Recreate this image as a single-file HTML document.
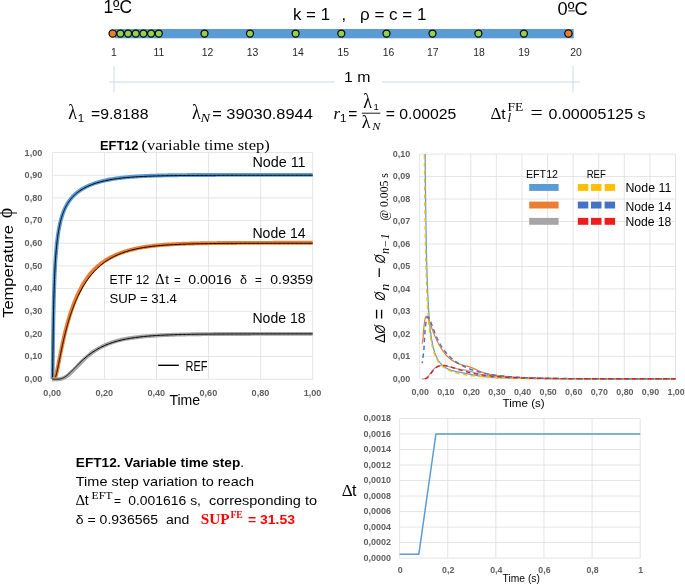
<!DOCTYPE html>
<html><head><meta charset="utf-8"><title>EFT12</title>
<style>
html,body{margin:0;padding:0;background:#fff;}
body{width:685px;height:585px;overflow:hidden;font-family:"Liberation Sans",sans-serif;}
svg{display:block;}
text{white-space:pre;}
</style></head>
<body>
<svg width="685" height="585" viewBox="0 0 685 585">
<rect width="685" height="585" fill="#fff"/>
<g opacity="0.999">
<rect x="114.9" y="29.0" width="458.8" height="9.3" fill="#5B9BD5"/>
<circle cx="120.38" cy="33.5" r="3.5" fill="#92D050" stroke="#0a0a0a" stroke-width="1.25"/>
<circle cx="128.07" cy="33.5" r="3.5" fill="#92D050" stroke="#0a0a0a" stroke-width="1.25"/>
<circle cx="135.75" cy="33.5" r="3.5" fill="#92D050" stroke="#0a0a0a" stroke-width="1.25"/>
<circle cx="143.43" cy="33.5" r="3.5" fill="#92D050" stroke="#0a0a0a" stroke-width="1.25"/>
<circle cx="151.12" cy="33.5" r="3.5" fill="#92D050" stroke="#0a0a0a" stroke-width="1.25"/>
<circle cx="158.80" cy="33.5" r="3.5" fill="#92D050" stroke="#0a0a0a" stroke-width="1.25"/>
<circle cx="204.50" cy="33.5" r="3.5" fill="#92D050" stroke="#0a0a0a" stroke-width="1.25"/>
<circle cx="250.00" cy="33.5" r="3.5" fill="#92D050" stroke="#0a0a0a" stroke-width="1.25"/>
<circle cx="295.60" cy="33.5" r="3.5" fill="#92D050" stroke="#0a0a0a" stroke-width="1.25"/>
<circle cx="341.30" cy="33.5" r="3.5" fill="#92D050" stroke="#0a0a0a" stroke-width="1.25"/>
<circle cx="386.50" cy="33.5" r="3.5" fill="#92D050" stroke="#0a0a0a" stroke-width="1.25"/>
<circle cx="432.50" cy="33.5" r="3.5" fill="#92D050" stroke="#0a0a0a" stroke-width="1.25"/>
<circle cx="478.40" cy="33.5" r="3.5" fill="#92D050" stroke="#0a0a0a" stroke-width="1.25"/>
<circle cx="523.90" cy="33.5" r="3.5" fill="#92D050" stroke="#0a0a0a" stroke-width="1.25"/>
<circle cx="112.70" cy="33.5" r="3.7" fill="#ED7D31" stroke="#0a0a0a" stroke-width="1.25"/>
<circle cx="568.40" cy="33.5" r="3.7" fill="#ED7D31" stroke="#0a0a0a" stroke-width="1.25"/>
<text x="113.80" y="55.60" font-size="10.4" font-family='"Liberation Sans", sans-serif' fill="#262626" text-anchor="middle">1</text>
<text x="159.00" y="55.60" font-size="10.4" font-family='"Liberation Sans", sans-serif' fill="#262626" text-anchor="middle">11</text>
<text x="207.50" y="55.60" font-size="10.4" font-family='"Liberation Sans", sans-serif' fill="#262626" text-anchor="middle">12</text>
<text x="252.50" y="55.60" font-size="10.4" font-family='"Liberation Sans", sans-serif' fill="#262626" text-anchor="middle">13</text>
<text x="298.00" y="55.60" font-size="10.4" font-family='"Liberation Sans", sans-serif' fill="#262626" text-anchor="middle">14</text>
<text x="343.20" y="55.60" font-size="10.4" font-family='"Liberation Sans", sans-serif' fill="#262626" text-anchor="middle">15</text>
<text x="388.50" y="55.60" font-size="10.4" font-family='"Liberation Sans", sans-serif' fill="#262626" text-anchor="middle">16</text>
<text x="432.80" y="55.60" font-size="10.4" font-family='"Liberation Sans", sans-serif' fill="#262626" text-anchor="middle">17</text>
<text x="479.00" y="55.60" font-size="10.4" font-family='"Liberation Sans", sans-serif' fill="#262626" text-anchor="middle">18</text>
<text x="524.00" y="55.60" font-size="10.4" font-family='"Liberation Sans", sans-serif' fill="#262626" text-anchor="middle">19</text>
<text x="576.00" y="55.60" font-size="10.4" font-family='"Liberation Sans", sans-serif' fill="#262626" text-anchor="middle">20</text>
<text x="103.40" y="12.90" font-size="17.5" font-family='"Liberation Sans", sans-serif' fill="#000" textLength="28.60" lengthAdjust="spacingAndGlyphs">1ºC</text>
<text x="557.60" y="14.70" font-size="17.5" font-family='"Liberation Sans", sans-serif' fill="#000" textLength="30.00" lengthAdjust="spacingAndGlyphs">0ºC</text>
<line x1="113.9" y1="9.5" x2="119.7" y2="9.5" stroke="#000" stroke-width="0.9"/>
<line x1="568.4" y1="10.9" x2="574.8" y2="10.9" stroke="#000" stroke-width="0.9"/>
<text x="293.00" y="19.90" font-size="16.5" font-family='"Liberation Sans", sans-serif' fill="#000" textLength="37.00" lengthAdjust="spacingAndGlyphs">k = 1</text>
<text x="341.50" y="19.90" font-size="16.5" font-family='"Liberation Sans", sans-serif' fill="#000">,</text>
<text x="360.00" y="19.90" font-size="16.5" font-family='"Liberation Sans", sans-serif' fill="#000" textLength="66.40" lengthAdjust="spacingAndGlyphs">ρ = c = 1</text>
<line x1="109" y1="82" x2="334.5" y2="82" stroke="#C9DAF1" stroke-width="1"/>
<line x1="382" y1="82" x2="579.7" y2="82" stroke="#C9DAF1" stroke-width="1"/>
<line x1="114" y1="66" x2="114" y2="92.5" stroke="#C9DAF1" stroke-width="1"/>
<line x1="573" y1="66" x2="573" y2="92.5" stroke="#C9DAF1" stroke-width="1"/>
<text x="344.00" y="82.30" font-size="15" font-family='"Liberation Sans", sans-serif' fill="#000" textLength="26.40" lengthAdjust="spacingAndGlyphs">1 m</text>
<text transform="translate(68.30,118.60) scale(1,1.14)" x="0" y="0" font-size="18" font-family='"Liberation Serif", serif' fill="#000">λ</text>
<text x="77.70" y="122.40" font-size="11.5" font-family='"Liberation Sans", sans-serif' fill="#000">1</text>
<text x="91.00" y="118.60" font-size="15.5" font-family='"Liberation Sans", sans-serif' fill="#000" textLength="57.40" lengthAdjust="spacingAndGlyphs">=9.8188</text>
<text transform="translate(192.00,118.60) scale(1,1.14)" x="0" y="0" font-size="18" font-family='"Liberation Serif", serif' fill="#000">λ</text>
<text x="200.40" y="122.00" font-size="11.5" font-family='"Liberation Serif", serif' fill="#000" font-style="italic" textLength="9.60" lengthAdjust="spacingAndGlyphs">N</text>
<text x="212.20" y="118.60" font-size="15.5" font-family='"Liberation Sans", sans-serif' fill="#000" textLength="100.60" lengthAdjust="spacingAndGlyphs">= 39030.8944</text>
<text x="333.50" y="118.60" font-size="17" font-family='"Liberation Serif", serif' fill="#000" font-style="italic">r</text>
<text x="340.00" y="122.40" font-size="11.5" font-family='"Liberation Sans", sans-serif' fill="#000">1</text>
<text x="348.30" y="118.60" font-size="15.5" font-family='"Liberation Sans", sans-serif' fill="#000" textLength="9.10" lengthAdjust="spacingAndGlyphs">=</text>
<text transform="translate(363.20,107.50) scale(1,1.12)" x="0" y="0" font-size="18" font-family='"Liberation Serif", serif' fill="#000">λ</text>
<text x="373.60" y="110.40" font-size="9.5" font-family='"Liberation Sans", sans-serif' fill="#000">1</text>
<line x1="361.8" y1="113.2" x2="380.4" y2="113.2" stroke="#000" stroke-width="0.9"/>
<text transform="translate(361.80,127.60) scale(1,1.0)" x="0" y="0" font-size="18" font-family='"Liberation Serif", serif' fill="#000">λ</text>
<text x="372.30" y="130.30" font-size="10" font-family='"Liberation Serif", serif' fill="#000" font-style="italic" textLength="8.10" lengthAdjust="spacingAndGlyphs">N</text>
<text x="385.70" y="118.60" font-size="15.5" font-family='"Liberation Sans", sans-serif' fill="#000" textLength="70.60" lengthAdjust="spacingAndGlyphs">= 0.00025</text>
<text x="490.40" y="118.60" font-size="17" font-family='"Liberation Serif", serif' fill="#000">Δ</text>
<text x="501.30" y="118.60" font-size="15.5" font-family='"Liberation Sans", sans-serif' fill="#000">t</text>
<text x="507.50" y="111.40" font-size="11.5" font-family='"Liberation Serif", serif' fill="#000" textLength="15.80" lengthAdjust="spacingAndGlyphs">FE</text>
<text x="507.60" y="121.60" font-size="13" font-family='"Liberation Serif", serif' fill="#000" font-style="italic">l</text>
<text x="530.40" y="118.90" font-size="18.5" font-family='"Liberation Serif", serif' fill="#000" textLength="12.20" lengthAdjust="spacingAndGlyphs">=</text>
<text x="548.60" y="118.60" font-size="15.5" font-family='"Liberation Sans", sans-serif' fill="#000" textLength="96.90" lengthAdjust="spacingAndGlyphs">0.00005125 s</text>
<line x1="52.4" y1="379.20" x2="312.7" y2="379.20" stroke="#DCDCDC" stroke-width="0.75"/>
<text x="42.30" y="382.10" font-size="9.1" font-family='"Liberation Sans", sans-serif' fill="#5f5f5f" font-weight="bold" text-anchor="end">0,00</text>
<line x1="52.4" y1="356.54" x2="312.7" y2="356.54" stroke="#DCDCDC" stroke-width="0.75"/>
<text x="42.30" y="359.44" font-size="9.1" font-family='"Liberation Sans", sans-serif' fill="#5f5f5f" font-weight="bold" text-anchor="end">0,10</text>
<line x1="52.4" y1="333.88" x2="312.7" y2="333.88" stroke="#DCDCDC" stroke-width="0.75"/>
<text x="42.30" y="336.78" font-size="9.1" font-family='"Liberation Sans", sans-serif' fill="#5f5f5f" font-weight="bold" text-anchor="end">0,20</text>
<line x1="52.4" y1="311.22" x2="312.7" y2="311.22" stroke="#DCDCDC" stroke-width="0.75"/>
<text x="42.30" y="314.12" font-size="9.1" font-family='"Liberation Sans", sans-serif' fill="#5f5f5f" font-weight="bold" text-anchor="end">0,30</text>
<line x1="52.4" y1="288.56" x2="312.7" y2="288.56" stroke="#DCDCDC" stroke-width="0.75"/>
<text x="42.30" y="291.46" font-size="9.1" font-family='"Liberation Sans", sans-serif' fill="#5f5f5f" font-weight="bold" text-anchor="end">0,40</text>
<line x1="52.4" y1="265.90" x2="312.7" y2="265.90" stroke="#DCDCDC" stroke-width="0.75"/>
<text x="42.30" y="268.80" font-size="9.1" font-family='"Liberation Sans", sans-serif' fill="#5f5f5f" font-weight="bold" text-anchor="end">0,50</text>
<line x1="52.4" y1="243.24" x2="312.7" y2="243.24" stroke="#DCDCDC" stroke-width="0.75"/>
<text x="42.30" y="246.14" font-size="9.1" font-family='"Liberation Sans", sans-serif' fill="#5f5f5f" font-weight="bold" text-anchor="end">0,60</text>
<line x1="52.4" y1="220.58" x2="312.7" y2="220.58" stroke="#DCDCDC" stroke-width="0.75"/>
<text x="42.30" y="223.48" font-size="9.1" font-family='"Liberation Sans", sans-serif' fill="#5f5f5f" font-weight="bold" text-anchor="end">0,70</text>
<line x1="52.4" y1="197.92" x2="312.7" y2="197.92" stroke="#DCDCDC" stroke-width="0.75"/>
<text x="42.30" y="200.82" font-size="9.1" font-family='"Liberation Sans", sans-serif' fill="#5f5f5f" font-weight="bold" text-anchor="end">0,80</text>
<line x1="52.4" y1="175.26" x2="312.7" y2="175.26" stroke="#DCDCDC" stroke-width="0.75"/>
<text x="42.30" y="178.16" font-size="9.1" font-family='"Liberation Sans", sans-serif' fill="#5f5f5f" font-weight="bold" text-anchor="end">0,90</text>
<line x1="52.4" y1="152.60" x2="312.7" y2="152.60" stroke="#DCDCDC" stroke-width="0.75"/>
<text x="42.30" y="155.50" font-size="9.1" font-family='"Liberation Sans", sans-serif' fill="#5f5f5f" font-weight="bold" text-anchor="end">1,00</text>
<line x1="52.40" y1="152.6" x2="52.40" y2="379.2" stroke="#DCDCDC" stroke-width="0.75"/>
<text x="52.20" y="395.60" font-size="9.1" font-family='"Liberation Sans", sans-serif' fill="#5f5f5f" font-weight="bold" text-anchor="middle">0,00</text>
<line x1="104.46" y1="152.6" x2="104.46" y2="379.2" stroke="#DCDCDC" stroke-width="0.75"/>
<text x="104.26" y="395.60" font-size="9.1" font-family='"Liberation Sans", sans-serif' fill="#5f5f5f" font-weight="bold" text-anchor="middle">0,20</text>
<line x1="156.52" y1="152.6" x2="156.52" y2="379.2" stroke="#DCDCDC" stroke-width="0.75"/>
<text x="156.32" y="395.60" font-size="9.1" font-family='"Liberation Sans", sans-serif' fill="#5f5f5f" font-weight="bold" text-anchor="middle">0,40</text>
<line x1="208.58" y1="152.6" x2="208.58" y2="379.2" stroke="#DCDCDC" stroke-width="0.75"/>
<text x="208.38" y="395.60" font-size="9.1" font-family='"Liberation Sans", sans-serif' fill="#5f5f5f" font-weight="bold" text-anchor="middle">0,60</text>
<line x1="260.64" y1="152.6" x2="260.64" y2="379.2" stroke="#DCDCDC" stroke-width="0.75"/>
<text x="260.44" y="395.60" font-size="9.1" font-family='"Liberation Sans", sans-serif' fill="#5f5f5f" font-weight="bold" text-anchor="middle">0,80</text>
<line x1="312.70" y1="152.6" x2="312.70" y2="379.2" stroke="#DCDCDC" stroke-width="0.75"/>
<text x="312.50" y="395.60" font-size="9.1" font-family='"Liberation Sans", sans-serif' fill="#5f5f5f" font-weight="bold" text-anchor="middle">1,00</text>
<path d="M52.40,379.20 L52.53,378.74 L52.66,372.60 L52.79,362.25 L52.92,351.36 L53.05,341.23 L53.18,332.12 L53.31,324.03 L53.44,316.82 L53.57,310.39 L53.70,304.61 L53.83,299.39 L53.96,294.66 L54.09,290.35 L54.22,286.39 L54.35,282.75 L54.48,279.38 L54.61,276.26 L54.74,273.36 L54.87,270.64 L55.00,268.11 L55.13,265.72 L55.26,263.48 L55.39,261.36 L55.52,259.36 L55.65,257.46 L55.78,255.66 L55.91,253.95 L56.04,252.32 L56.17,250.77 L56.30,249.29 L56.43,247.87 L56.56,246.51 L56.69,245.21 L56.83,243.96 L56.96,242.76 L57.09,241.61 L57.22,240.49 L57.35,239.42 L57.48,238.39 L57.61,237.39 L57.74,236.43 L57.87,235.50 L58.00,234.59 L58.13,233.72 L58.26,232.88 L58.39,232.06 L58.52,231.26 L58.65,230.49 L58.78,229.74 L58.91,229.01 L59.04,228.30 L59.17,227.61 L59.30,226.94 L59.43,226.29 L59.56,225.65 L59.69,225.03 L59.82,224.43 L59.95,223.84 L60.08,223.26 L60.21,222.70 L60.34,222.15 L60.47,221.61 L60.60,221.09 L60.73,220.58 L60.86,220.07 L60.99,219.58 L61.12,219.10 L61.25,218.63 L61.38,218.17 L61.51,217.72 L61.64,217.28 L61.77,216.85 L61.90,216.42 L62.03,216.01 L62.16,215.60 L62.29,215.20 L62.42,214.81 L62.55,214.42 L62.68,214.04 L62.81,213.67 L62.94,213.31 L63.07,212.95 L63.20,212.59 L63.33,212.25 L63.46,211.91 L63.59,211.57 L63.72,211.24 L63.85,210.92 L63.98,210.60 L64.11,210.29 L64.24,209.98 L64.37,209.68 L64.50,209.38 L64.63,209.08 L64.76,208.79 L64.89,208.51 L65.02,208.23 L65.15,207.95 L65.28,207.68 L65.41,207.41 L65.55,207.14 L65.68,206.88 L65.81,206.62 L65.94,206.37 L66.07,206.12 L66.20,205.87 L66.33,205.63 L66.46,205.39 L66.59,205.15 L66.72,204.92 L66.85,204.69 L66.98,204.46 L67.11,204.23 L67.24,204.01 L67.37,203.79 L67.50,203.57 L67.63,203.36 L67.76,203.15 L67.89,202.94 L68.02,202.73 L68.15,202.53 L68.28,202.33 L68.41,202.13 L68.54,201.93 L68.67,201.74 L68.80,201.55 L68.93,201.36 L69.06,201.17 L69.19,200.99 L69.32,200.80 L69.45,200.62 L69.58,200.44 L69.71,200.26 L69.84,200.09 L69.97,199.92 L70.10,199.74 L70.23,199.57 L70.36,199.41 L70.49,199.24 L70.62,199.08 L70.75,198.91 L70.88,198.75 L71.01,198.59 L71.14,198.43 L71.27,198.28 L71.40,198.12 L71.53,197.97 L71.66,197.82 L71.79,197.67 L71.92,197.52 L72.05,197.37 L72.18,197.23 L72.31,197.08 L72.44,196.94 L72.57,196.80 L72.70,196.66 L72.83,196.52 L72.96,196.38 L73.09,196.24 L73.22,196.11 L73.35,195.98 L73.48,195.84 L73.61,195.71 L73.74,195.58 L73.87,195.45 L74.00,195.32 L74.14,195.20 L74.27,195.07 L74.40,194.95 L74.53,194.82 L74.66,194.70 L74.79,194.58 L74.92,194.46 L75.05,194.34 L75.18,194.22 L75.31,194.10 L75.44,193.99 L75.57,193.87 L75.70,193.76 L75.83,193.64 L75.96,193.53 L76.09,193.42 L76.22,193.31 L76.35,193.20 L76.48,193.09 L76.61,192.98 L76.74,192.87 L76.87,192.77 L77.00,192.66 L77.13,192.56 L77.26,192.45 L77.39,192.35 L77.52,192.25 L77.65,192.14 L77.78,192.04 L77.91,191.94 L78.04,191.84 L78.17,191.75 L78.30,191.65 L78.43,191.55 L79.73,190.62 L81.03,189.75 L82.33,188.94 L83.64,188.18 L84.94,187.47 L86.24,186.81 L87.54,186.18 L88.84,185.59 L90.14,185.03 L91.45,184.51 L92.75,184.01 L94.05,183.54 L95.35,183.10 L96.65,182.68 L97.95,182.28 L99.25,181.90 L100.56,181.54 L101.86,181.21 L103.16,180.89 L104.46,180.58 L105.76,180.29 L107.06,180.02 L108.36,179.76 L109.67,179.51 L110.97,179.28 L112.27,179.05 L113.57,178.84 L114.87,178.64 L116.17,178.45 L117.47,178.27 L118.78,178.10 L120.08,177.94 L121.38,177.78 L122.68,177.64 L123.98,177.50 L125.28,177.36 L126.59,177.24 L127.89,177.12 L129.19,177.01 L130.49,176.90 L131.79,176.80 L133.09,176.70 L134.39,176.61 L135.70,176.52 L137.00,176.43 L138.30,176.36 L139.60,176.28 L140.90,176.21 L142.20,176.14 L143.50,176.08 L144.81,176.02 L146.11,175.96 L147.41,175.90 L148.71,175.85 L150.01,175.80 L151.31,175.75 L152.62,175.71 L153.92,175.67 L155.22,175.63 L156.52,175.59 L157.82,175.55 L159.12,175.52 L160.42,175.48 L161.73,175.45 L163.03,175.42 L164.33,175.39 L165.63,175.37 L166.93,175.34 L168.23,175.32 L169.54,175.29 L170.84,175.27 L172.14,175.25 L173.44,175.23 L174.74,175.21 L176.04,175.19 L177.34,175.18 L178.65,175.16 L179.95,175.15 L181.25,175.13 L182.55,175.12 L183.85,175.10 L185.15,175.09 L186.45,175.08 L187.76,175.07 L189.06,175.06 L190.36,175.05 L191.66,175.04 L192.96,175.03 L194.26,175.02 L195.57,175.01 L196.87,175.00 L198.17,175.00 L199.47,174.99 L200.77,174.98 L202.07,174.98 L203.37,174.97 L204.68,174.96 L205.98,174.96 L207.28,174.95 L208.58,174.95 L209.88,174.94 L211.18,174.94 L212.48,174.93 L213.79,174.93 L215.09,174.93 L216.39,174.92 L217.69,174.92 L218.99,174.92 L220.29,174.91 L221.60,174.91 L222.90,174.91 L224.20,174.90 L225.50,174.90 L226.80,174.90 L228.10,174.90 L229.40,174.90 L230.71,174.89 L232.01,174.89 L233.31,174.89 L234.61,174.89 L235.91,174.89 L237.21,174.88 L238.51,174.88 L239.82,174.88 L241.12,174.88 L242.42,174.88 L243.72,174.88 L245.02,174.88 L246.32,174.87 L247.63,174.87 L248.93,174.87 L250.23,174.87 L251.53,174.87 L252.83,174.87 L254.13,174.87 L255.43,174.87 L256.74,174.87 L258.04,174.87 L259.34,174.87 L260.64,174.87 L261.94,174.86 L263.24,174.86 L264.54,174.86 L265.85,174.86 L267.15,174.86 L268.45,174.86 L269.75,174.86 L271.05,174.86 L272.35,174.86 L273.65,174.86 L274.96,174.86 L276.26,174.86 L277.56,174.86 L278.86,174.86 L280.16,174.86 L281.46,174.86 L282.77,174.86 L284.07,174.86 L285.37,174.86 L286.67,174.86 L287.97,174.86 L289.27,174.86 L290.57,174.86 L291.88,174.86 L293.18,174.86 L294.48,174.86 L295.78,174.86 L297.08,174.86 L298.38,174.86 L299.69,174.86 L300.99,174.86 L302.29,174.85 L303.59,174.85 L304.89,174.85 L306.19,174.85 L307.49,174.85 L308.80,174.85 L310.10,174.85 L311.40,174.85 L312.70,174.85" fill="none" stroke="#5B9BD5" stroke-width="3.9" stroke-linejoin="round"/>
<path d="M52.40,379.20 L52.53,378.74 L52.66,372.61 L52.79,362.25 L52.92,351.37 L53.05,341.23 L53.18,332.13 L53.31,324.04 L53.44,316.83 L53.57,310.40 L53.70,304.62 L53.83,299.41 L53.96,294.68 L54.09,290.36 L54.22,286.41 L54.35,282.77 L54.48,279.41 L54.61,276.29 L54.74,273.38 L54.87,270.67 L55.00,268.13 L55.13,265.75 L55.26,263.51 L55.39,261.39 L55.52,259.39 L55.65,257.49 L55.78,255.70 L55.91,253.99 L56.04,252.36 L56.17,250.81 L56.30,249.33 L56.43,247.91 L56.56,246.55 L56.69,245.25 L56.83,244.00 L56.96,242.80 L57.09,241.65 L57.22,240.54 L57.35,239.47 L57.48,238.44 L57.61,237.44 L57.74,236.48 L57.87,235.55 L58.00,234.65 L58.13,233.78 L58.26,232.93 L58.39,232.11 L58.52,231.32 L58.65,230.55 L58.78,229.80 L58.91,229.07 L59.04,228.37 L59.17,227.68 L59.30,227.01 L59.43,226.36 L59.56,225.72 L59.69,225.10 L59.82,224.50 L59.95,223.91 L60.08,223.33 L60.21,222.77 L60.34,222.22 L60.47,221.69 L60.60,221.17 L60.73,220.65 L60.86,220.15 L60.99,219.66 L61.12,219.18 L61.25,218.72 L61.38,218.26 L61.51,217.81 L61.64,217.37 L61.77,216.94 L61.90,216.51 L62.03,216.10 L62.16,215.69 L62.29,215.29 L62.42,214.90 L62.55,214.51 L62.68,214.14 L62.81,213.77 L62.94,213.40 L63.07,213.04 L63.20,212.69 L63.33,212.35 L63.46,212.01 L63.59,211.67 L63.72,211.35 L63.85,211.02 L63.98,210.71 L64.11,210.39 L64.24,210.09 L64.37,209.78 L64.50,209.49 L64.63,209.19 L64.76,208.90 L64.89,208.62 L65.02,208.34 L65.15,208.06 L65.28,207.79 L65.41,207.52 L65.55,207.26 L65.68,207.00 L65.81,206.74 L65.94,206.49 L66.07,206.24 L66.20,205.99 L66.33,205.75 L66.46,205.51 L66.59,205.27 L66.72,205.04 L66.85,204.81 L66.98,204.58 L67.11,204.36 L67.24,204.14 L67.37,203.92 L67.50,203.71 L67.63,203.49 L67.76,203.28 L67.89,203.07 L68.02,202.87 L68.15,202.67 L68.28,202.47 L68.41,202.27 L68.54,202.07 L68.67,201.88 L68.80,201.69 L68.93,201.50 L69.06,201.31 L69.19,201.13 L69.32,200.95 L69.45,200.77 L69.58,200.59 L69.71,200.41 L69.84,200.24 L69.97,200.06 L70.10,199.89 L70.23,199.72 L70.36,199.56 L70.49,199.39 L70.62,199.23 L70.75,199.07 L70.88,198.91 L71.01,198.75 L71.14,198.59 L71.27,198.43 L71.40,198.28 L71.53,198.13 L71.66,197.98 L71.79,197.83 L71.92,197.68 L72.05,197.53 L72.18,197.39 L72.31,197.25 L72.44,197.10 L72.57,196.96 L72.70,196.82 L72.83,196.68 L72.96,196.55 L73.09,196.41 L73.22,196.28 L73.35,196.14 L73.48,196.01 L73.61,195.88 L73.74,195.75 L73.87,195.62 L74.00,195.50 L74.14,195.37 L74.27,195.25 L74.40,195.12 L74.53,195.00 L74.66,194.88 L74.79,194.76 L74.92,194.64 L75.05,194.52 L75.18,194.40 L75.31,194.28 L75.44,194.17 L75.57,194.05 L75.70,193.94 L75.83,193.83 L75.96,193.71 L76.09,193.60 L76.22,193.49 L76.35,193.38 L76.48,193.28 L76.61,193.17 L76.74,193.06 L76.87,192.96 L77.00,192.85 L77.13,192.75 L77.26,192.64 L77.39,192.54 L77.52,192.44 L77.65,192.34 L77.78,192.24 L77.91,192.14 L78.04,192.04 L78.17,191.94 L78.30,191.85 L78.43,191.75 L79.73,190.82 L81.03,189.96 L82.33,189.16 L83.64,188.41 L84.94,187.70 L86.24,187.04 L87.54,186.42 L88.84,185.84 L90.14,185.28 L91.45,184.76 L92.75,184.27 L94.05,183.81 L95.35,183.37 L96.65,182.95 L97.95,182.56 L99.25,182.19 L100.56,181.83 L101.86,181.50 L103.16,181.18 L104.46,180.88 L105.76,180.60 L107.06,180.33 L108.36,180.07 L109.67,179.82 L110.97,179.59 L112.27,179.37 L113.57,179.17 L114.87,178.97 L116.17,178.78 L117.47,178.60 L118.78,178.43 L120.08,178.27 L121.38,178.12 L122.68,177.98 L123.98,177.84 L125.28,177.71 L126.59,177.59 L127.89,177.47 L129.19,177.36 L130.49,177.25 L131.79,177.15 L133.09,177.05 L134.39,176.96 L135.70,176.88 L137.00,176.80 L138.30,176.72 L139.60,176.64 L140.90,176.57 L142.20,176.51 L143.50,176.45 L144.81,176.39 L146.11,176.33 L147.41,176.27 L148.71,176.22 L150.01,176.17 L151.31,176.13 L152.62,176.08 L153.92,176.04 L155.22,176.00 L156.52,175.97 L157.82,175.93 L159.12,175.90 L160.42,175.86 L161.73,175.83 L163.03,175.80 L164.33,175.78 L165.63,175.75 L166.93,175.73 L168.23,175.70 L169.54,175.68 L170.84,175.66 L172.14,175.64 L173.44,175.62 L174.74,175.60 L176.04,175.58 L177.34,175.57 L178.65,175.55 L179.95,175.54 L181.25,175.52 L182.55,175.51 L183.85,175.50 L185.15,175.49 L186.45,175.47 L187.76,175.46 L189.06,175.45 L190.36,175.44 L191.66,175.43 L192.96,175.43 L194.26,175.42 L195.57,175.41 L196.87,175.40 L198.17,175.39 L199.47,175.39 L200.77,175.38 L202.07,175.38 L203.37,175.37 L204.68,175.36 L205.98,175.36 L207.28,175.35 L208.58,175.35 L209.88,175.34 L211.18,175.34 L212.48,175.34 L213.79,175.33 L215.09,175.33 L216.39,175.33 L217.69,175.32 L218.99,175.32 L220.29,175.32 L221.60,175.31 L222.90,175.31 L224.20,175.31 L225.50,175.31 L226.80,175.30 L228.10,175.30 L229.40,175.30 L230.71,175.30 L232.01,175.29 L233.31,175.29 L234.61,175.29 L235.91,175.29 L237.21,175.29 L238.51,175.29 L239.82,175.29 L241.12,175.28 L242.42,175.28 L243.72,175.28 L245.02,175.28 L246.32,175.28 L247.63,175.28 L248.93,175.28 L250.23,175.28 L251.53,175.28 L252.83,175.28 L254.13,175.27 L255.43,175.27 L256.74,175.27 L258.04,175.27 L259.34,175.27 L260.64,175.27 L261.94,175.27 L263.24,175.27 L264.54,175.27 L265.85,175.27 L267.15,175.27 L268.45,175.27 L269.75,175.27 L271.05,175.27 L272.35,175.27 L273.65,175.27 L274.96,175.27 L276.26,175.27 L277.56,175.27 L278.86,175.27 L280.16,175.27 L281.46,175.26 L282.77,175.26 L284.07,175.26 L285.37,175.26 L286.67,175.26 L287.97,175.26 L289.27,175.26 L290.57,175.26 L291.88,175.26 L293.18,175.26 L294.48,175.26 L295.78,175.26 L297.08,175.26 L298.38,175.26 L299.69,175.26 L300.99,175.26 L302.29,175.26 L303.59,175.26 L304.89,175.26 L306.19,175.26 L307.49,175.26 L308.80,175.26 L310.10,175.26 L311.40,175.26 L312.70,175.26" fill="none" stroke="#000" stroke-width="1.0" stroke-linejoin="round"/>
<path d="M52.40,379.20 L52.53,379.20 L52.66,379.20 L52.79,379.20 L52.92,379.20 L53.05,379.19 L53.18,379.19 L53.31,379.19 L53.44,379.19 L53.57,379.18 L53.70,379.17 L53.83,379.14 L53.96,379.10 L54.09,379.05 L54.22,378.97 L54.35,378.87 L54.48,378.74 L54.61,378.58 L54.74,378.40 L54.87,378.18 L55.00,377.94 L55.13,377.66 L55.26,377.35 L55.39,377.02 L55.52,376.66 L55.65,376.27 L55.78,375.86 L55.91,375.42 L56.04,374.97 L56.17,374.49 L56.30,373.99 L56.43,373.47 L56.56,372.93 L56.69,372.38 L56.83,371.82 L56.96,371.24 L57.09,370.65 L57.22,370.05 L57.35,369.44 L57.48,368.82 L57.61,368.19 L57.74,367.55 L57.87,366.91 L58.00,366.27 L58.13,365.61 L58.26,364.96 L58.39,364.30 L58.52,363.63 L58.65,362.97 L58.78,362.30 L58.91,361.63 L59.04,360.96 L59.17,360.29 L59.30,359.62 L59.43,358.95 L59.56,358.28 L59.69,357.62 L59.82,356.95 L59.95,356.28 L60.08,355.62 L60.21,354.95 L60.34,354.29 L60.47,353.63 L60.60,352.98 L60.73,352.32 L60.86,351.67 L60.99,351.02 L61.12,350.38 L61.25,349.73 L61.38,349.10 L61.51,348.46 L61.64,347.83 L61.77,347.20 L61.90,346.57 L62.03,345.95 L62.16,345.33 L62.29,344.71 L62.42,344.10 L62.55,343.49 L62.68,342.89 L62.81,342.29 L62.94,341.69 L63.07,341.10 L63.20,340.51 L63.33,339.92 L63.46,339.34 L63.59,338.76 L63.72,338.19 L63.85,337.62 L63.98,337.05 L64.11,336.49 L64.24,335.93 L64.37,335.38 L64.50,334.83 L64.63,334.28 L64.76,333.73 L64.89,333.19 L65.02,332.66 L65.15,332.13 L65.28,331.60 L65.41,331.07 L65.55,330.55 L65.68,330.03 L65.81,329.52 L65.94,329.01 L66.07,328.50 L66.20,327.99 L66.33,327.49 L66.46,327.00 L66.59,326.50 L66.72,326.01 L66.85,325.53 L66.98,325.04 L67.11,324.56 L67.24,324.09 L67.37,323.62 L67.50,323.15 L67.63,322.68 L67.76,322.22 L67.89,321.76 L68.02,321.30 L68.15,320.84 L68.28,320.39 L68.41,319.95 L68.54,319.50 L68.67,319.06 L68.80,318.62 L68.93,318.19 L69.06,317.75 L69.19,317.32 L69.32,316.90 L69.45,316.47 L69.58,316.05 L69.71,315.63 L69.84,315.22 L69.97,314.81 L70.10,314.40 L70.23,313.99 L70.36,313.58 L70.49,313.18 L70.62,312.78 L70.75,312.39 L70.88,311.99 L71.01,311.60 L71.14,311.21 L71.27,310.83 L71.40,310.44 L71.53,310.06 L71.66,309.69 L71.79,309.31 L71.92,308.94 L72.05,308.57 L72.18,308.20 L72.31,307.83 L72.44,307.47 L72.57,307.11 L72.70,306.75 L72.83,306.39 L72.96,306.03 L73.09,305.68 L73.22,305.33 L73.35,304.98 L73.48,304.64 L73.61,304.30 L73.74,303.95 L73.87,303.62 L74.00,303.28 L74.14,302.94 L74.27,302.61 L74.40,302.28 L74.53,301.95 L74.66,301.63 L74.79,301.30 L74.92,300.98 L75.05,300.66 L75.18,300.34 L75.31,300.02 L75.44,299.71 L75.57,299.40 L75.70,299.09 L75.83,298.78 L75.96,298.47 L76.09,298.17 L76.22,297.86 L76.35,297.56 L76.48,297.26 L76.61,296.97 L76.74,296.67 L76.87,296.38 L77.00,296.09 L77.13,295.80 L77.26,295.51 L77.39,295.22 L77.52,294.94 L77.65,294.65 L77.78,294.37 L77.91,294.09 L78.04,293.81 L78.17,293.54 L78.30,293.26 L78.43,292.99 L79.73,290.35 L81.03,287.87 L82.33,285.53 L83.64,283.32 L84.94,281.25 L86.24,279.29 L87.54,277.45 L88.84,275.71 L90.14,274.08 L91.45,272.53 L92.75,271.08 L94.05,269.71 L95.35,268.41 L96.65,267.19 L97.95,266.04 L99.25,264.94 L100.56,263.91 L101.86,262.93 L103.16,262.00 L104.46,261.12 L105.76,260.28 L107.06,259.49 L108.36,258.73 L109.67,258.01 L110.97,257.32 L112.27,256.66 L113.57,256.03 L114.87,255.43 L116.17,254.85 L117.47,254.30 L118.78,253.78 L120.08,253.27 L121.38,252.79 L122.68,252.33 L123.98,251.89 L125.28,251.47 L126.59,251.06 L127.89,250.68 L129.19,250.31 L130.49,249.95 L131.79,249.62 L133.09,249.30 L134.39,248.99 L135.70,248.69 L137.00,248.41 L138.30,248.15 L139.60,247.89 L140.90,247.65 L142.20,247.42 L143.50,247.20 L144.81,246.99 L146.11,246.79 L147.41,246.60 L148.71,246.42 L150.01,246.24 L151.31,246.08 L152.62,245.92 L153.92,245.77 L155.22,245.63 L156.52,245.50 L157.82,245.37 L159.12,245.24 L160.42,245.13 L161.73,245.02 L163.03,244.91 L164.33,244.81 L165.63,244.71 L166.93,244.62 L168.23,244.53 L169.54,244.45 L170.84,244.37 L172.14,244.30 L173.44,244.22 L174.74,244.16 L176.04,244.09 L177.34,244.03 L178.65,243.97 L179.95,243.91 L181.25,243.86 L182.55,243.81 L183.85,243.76 L185.15,243.72 L186.45,243.67 L187.76,243.63 L189.06,243.59 L190.36,243.55 L191.66,243.52 L192.96,243.48 L194.26,243.45 L195.57,243.42 L196.87,243.39 L198.17,243.36 L199.47,243.33 L200.77,243.31 L202.07,243.28 L203.37,243.26 L204.68,243.24 L205.98,243.22 L207.28,243.20 L208.58,243.18 L209.88,243.16 L211.18,243.14 L212.48,243.12 L213.79,243.11 L215.09,243.09 L216.39,243.08 L217.69,243.07 L218.99,243.05 L220.29,243.04 L221.60,243.03 L222.90,243.02 L224.20,243.01 L225.50,243.00 L226.80,242.99 L228.10,242.98 L229.40,242.97 L230.71,242.96 L232.01,242.95 L233.31,242.94 L234.61,242.94 L235.91,242.93 L237.21,242.92 L238.51,242.92 L239.82,242.91 L241.12,242.91 L242.42,242.90 L243.72,242.90 L245.02,242.89 L246.32,242.89 L247.63,242.88 L248.93,242.88 L250.23,242.87 L251.53,242.87 L252.83,242.87 L254.13,242.86 L255.43,242.86 L256.74,242.85 L258.04,242.85 L259.34,242.85 L260.64,242.85 L261.94,242.84 L263.24,242.84 L264.54,242.84 L265.85,242.84 L267.15,242.83 L268.45,242.83 L269.75,242.83 L271.05,242.83 L272.35,242.83 L273.65,242.82 L274.96,242.82 L276.26,242.82 L277.56,242.82 L278.86,242.82 L280.16,242.82 L281.46,242.82 L282.77,242.81 L284.07,242.81 L285.37,242.81 L286.67,242.81 L287.97,242.81 L289.27,242.81 L290.57,242.81 L291.88,242.81 L293.18,242.81 L294.48,242.81 L295.78,242.80 L297.08,242.80 L298.38,242.80 L299.69,242.80 L300.99,242.80 L302.29,242.80 L303.59,242.80 L304.89,242.80 L306.19,242.80 L307.49,242.80 L308.80,242.80 L310.10,242.80 L311.40,242.80 L312.70,242.80" fill="none" stroke="#ED7D31" stroke-width="3.9" stroke-linejoin="round"/>
<path d="M52.40,379.20 L52.53,379.20 L52.66,379.20 L52.79,379.20 L52.92,379.20 L53.05,379.20 L53.18,379.20 L53.31,379.20 L53.44,379.20 L53.57,379.19 L53.70,379.19 L53.83,379.17 L53.96,379.14 L54.09,379.10 L54.22,379.04 L54.35,378.95 L54.48,378.85 L54.61,378.71 L54.74,378.55 L54.87,378.36 L55.00,378.14 L55.13,377.89 L55.26,377.61 L55.39,377.31 L55.52,376.97 L55.65,376.61 L55.78,376.23 L55.91,375.82 L56.04,375.39 L56.17,374.93 L56.30,374.46 L56.43,373.97 L56.56,373.46 L56.69,372.93 L56.83,372.39 L56.96,371.83 L57.09,371.27 L57.22,370.69 L57.35,370.10 L57.48,369.50 L57.61,368.89 L57.74,368.27 L57.87,367.65 L58.00,367.02 L58.13,366.39 L58.26,365.75 L58.39,365.11 L58.52,364.46 L58.65,363.82 L58.78,363.17 L58.91,362.51 L59.04,361.86 L59.17,361.21 L59.30,360.55 L59.43,359.90 L59.56,359.24 L59.69,358.59 L59.82,357.93 L59.95,357.28 L60.08,356.63 L60.21,355.98 L60.34,355.33 L60.47,354.69 L60.60,354.04 L60.73,353.40 L60.86,352.76 L60.99,352.13 L61.12,351.49 L61.25,350.86 L61.38,350.24 L61.51,349.61 L61.64,348.99 L61.77,348.37 L61.90,347.76 L62.03,347.15 L62.16,346.54 L62.29,345.94 L62.42,345.34 L62.55,344.74 L62.68,344.15 L62.81,343.56 L62.94,342.97 L63.07,342.39 L63.20,341.81 L63.33,341.23 L63.46,340.66 L63.59,340.10 L63.72,339.53 L63.85,338.97 L63.98,338.42 L64.11,337.86 L64.24,337.31 L64.37,336.77 L64.50,336.23 L64.63,335.69 L64.76,335.16 L64.89,334.63 L65.02,334.10 L65.15,333.58 L65.28,333.06 L65.41,332.54 L65.55,332.03 L65.68,331.52 L65.81,331.02 L65.94,330.52 L66.07,330.02 L66.20,329.52 L66.33,329.03 L66.46,328.55 L66.59,328.06 L66.72,327.58 L66.85,327.10 L66.98,326.63 L67.11,326.16 L67.24,325.69 L67.37,325.23 L67.50,324.77 L67.63,324.31 L67.76,323.86 L67.89,323.40 L68.02,322.96 L68.15,322.51 L68.28,322.07 L68.41,321.63 L68.54,321.19 L68.67,320.76 L68.80,320.33 L68.93,319.90 L69.06,319.48 L69.19,319.06 L69.32,318.64 L69.45,318.23 L69.58,317.81 L69.71,317.40 L69.84,317.00 L69.97,316.59 L70.10,316.19 L70.23,315.79 L70.36,315.40 L70.49,315.00 L70.62,314.61 L70.75,314.22 L70.88,313.84 L71.01,313.46 L71.14,313.07 L71.27,312.70 L71.40,312.32 L71.53,311.95 L71.66,311.58 L71.79,311.21 L71.92,310.84 L72.05,310.48 L72.18,310.12 L72.31,309.76 L72.44,309.40 L72.57,309.05 L72.70,308.70 L72.83,308.35 L72.96,308.00 L73.09,307.65 L73.22,307.31 L73.35,306.97 L73.48,306.63 L73.61,306.30 L73.74,305.96 L73.87,305.63 L74.00,305.30 L74.14,304.97 L74.27,304.64 L74.40,304.32 L74.53,304.00 L74.66,303.68 L74.79,303.36 L74.92,303.04 L75.05,302.73 L75.18,302.42 L75.31,302.11 L75.44,301.80 L75.57,301.49 L75.70,301.19 L75.83,300.88 L75.96,300.58 L76.09,300.28 L76.22,299.99 L76.35,299.69 L76.48,299.40 L76.61,299.10 L76.74,298.81 L76.87,298.52 L77.00,298.24 L77.13,297.95 L77.26,297.67 L77.39,297.39 L77.52,297.11 L77.65,296.83 L77.78,296.55 L77.91,296.27 L78.04,296.00 L78.17,295.73 L78.30,295.46 L78.43,295.19 L79.73,292.58 L81.03,290.12 L82.33,287.79 L83.64,285.59 L84.94,283.50 L86.24,281.52 L87.54,279.64 L88.84,277.86 L90.14,276.18 L91.45,274.57 L92.75,273.05 L94.05,271.60 L95.35,270.22 L96.65,268.92 L97.95,267.67 L99.25,266.49 L100.56,265.37 L101.86,264.30 L103.16,263.28 L104.46,262.31 L105.76,261.39 L107.06,260.52 L108.36,259.68 L109.67,258.89 L110.97,258.14 L112.27,257.42 L113.57,256.74 L114.87,256.09 L116.17,255.47 L117.47,254.88 L118.78,254.32 L120.08,253.78 L121.38,253.28 L122.68,252.79 L123.98,252.33 L125.28,251.89 L126.59,251.48 L127.89,251.08 L129.19,250.70 L130.49,250.34 L131.79,250.00 L133.09,249.68 L134.39,249.37 L135.70,249.07 L137.00,248.79 L138.30,248.52 L139.60,248.27 L140.90,248.03 L142.20,247.80 L143.50,247.58 L144.81,247.37 L146.11,247.17 L147.41,246.98 L148.71,246.80 L150.01,246.63 L151.31,246.47 L152.62,246.31 L153.92,246.16 L155.22,246.02 L156.52,245.89 L157.82,245.76 L159.12,245.64 L160.42,245.52 L161.73,245.41 L163.03,245.31 L164.33,245.21 L165.63,245.11 L166.93,245.02 L168.23,244.94 L169.54,244.86 L170.84,244.78 L172.14,244.70 L173.44,244.63 L174.74,244.57 L176.04,244.50 L177.34,244.44 L178.65,244.38 L179.95,244.33 L181.25,244.28 L182.55,244.23 L183.85,244.18 L185.15,244.13 L186.45,244.09 L187.76,244.05 L189.06,244.01 L190.36,243.97 L191.66,243.94 L192.96,243.90 L194.26,243.87 L195.57,243.84 L196.87,243.81 L198.17,243.79 L199.47,243.76 L200.77,243.73 L202.07,243.71 L203.37,243.69 L204.68,243.67 L205.98,243.65 L207.28,243.63 L208.58,243.61 L209.88,243.59 L211.18,243.57 L212.48,243.56 L213.79,243.54 L215.09,243.53 L216.39,243.51 L217.69,243.50 L218.99,243.49 L220.29,243.48 L221.60,243.46 L222.90,243.45 L224.20,243.44 L225.50,243.43 L226.80,243.42 L228.10,243.42 L229.40,243.41 L230.71,243.40 L232.01,243.39 L233.31,243.38 L234.61,243.38 L235.91,243.37 L237.21,243.36 L238.51,243.36 L239.82,243.35 L241.12,243.35 L242.42,243.34 L243.72,243.34 L245.02,243.33 L246.32,243.33 L247.63,243.32 L248.93,243.32 L250.23,243.32 L251.53,243.31 L252.83,243.31 L254.13,243.31 L255.43,243.30 L256.74,243.30 L258.04,243.30 L259.34,243.29 L260.64,243.29 L261.94,243.29 L263.24,243.29 L264.54,243.28 L265.85,243.28 L267.15,243.28 L268.45,243.28 L269.75,243.28 L271.05,243.27 L272.35,243.27 L273.65,243.27 L274.96,243.27 L276.26,243.27 L277.56,243.27 L278.86,243.27 L280.16,243.26 L281.46,243.26 L282.77,243.26 L284.07,243.26 L285.37,243.26 L286.67,243.26 L287.97,243.26 L289.27,243.26 L290.57,243.26 L291.88,243.26 L293.18,243.25 L294.48,243.25 L295.78,243.25 L297.08,243.25 L298.38,243.25 L299.69,243.25 L300.99,243.25 L302.29,243.25 L303.59,243.25 L304.89,243.25 L306.19,243.25 L307.49,243.25 L308.80,243.25 L310.10,243.25 L311.40,243.25 L312.70,243.25" fill="none" stroke="#000" stroke-width="1.0" stroke-linejoin="round"/>
<path d="M52.40,379.20 L52.53,379.20 L52.66,379.20 L52.79,379.20 L52.92,379.20 L53.05,379.20 L53.18,379.20 L53.31,379.20 L53.44,379.20 L53.57,379.20 L53.70,379.20 L53.83,379.20 L53.96,379.20 L54.09,379.20 L54.22,379.20 L54.35,379.20 L54.48,379.20 L54.61,379.20 L54.74,379.20 L54.87,379.20 L55.00,379.20 L55.13,379.20 L55.26,379.20 L55.39,379.20 L55.52,379.20 L55.65,379.20 L55.78,379.20 L55.91,379.20 L56.04,379.20 L56.17,379.20 L56.30,379.20 L56.43,379.20 L56.56,379.20 L56.69,379.20 L56.83,379.20 L56.96,379.20 L57.09,379.20 L57.22,379.19 L57.35,379.19 L57.48,379.19 L57.61,379.19 L57.74,379.19 L57.87,379.18 L58.00,379.18 L58.13,379.18 L58.26,379.17 L58.39,379.17 L58.52,379.16 L58.65,379.15 L58.78,379.14 L58.91,379.14 L59.04,379.13 L59.17,379.12 L59.30,379.11 L59.43,379.09 L59.56,379.08 L59.69,379.07 L59.82,379.05 L59.95,379.03 L60.08,379.01 L60.21,379.00 L60.34,378.97 L60.47,378.95 L60.60,378.93 L60.73,378.90 L60.86,378.88 L60.99,378.85 L61.12,378.82 L61.25,378.79 L61.38,378.76 L61.51,378.73 L61.64,378.69 L61.77,378.66 L61.90,378.62 L62.03,378.58 L62.16,378.54 L62.29,378.49 L62.42,378.45 L62.55,378.40 L62.68,378.36 L62.81,378.31 L62.94,378.26 L63.07,378.21 L63.20,378.15 L63.33,378.10 L63.46,378.04 L63.59,377.98 L63.72,377.92 L63.85,377.86 L63.98,377.80 L64.11,377.74 L64.24,377.67 L64.37,377.60 L64.50,377.53 L64.63,377.46 L64.76,377.39 L64.89,377.32 L65.02,377.25 L65.15,377.17 L65.28,377.09 L65.41,377.02 L65.55,376.94 L65.68,376.86 L65.81,376.77 L65.94,376.69 L66.07,376.61 L66.20,376.52 L66.33,376.43 L66.46,376.35 L66.59,376.26 L66.72,376.17 L66.85,376.08 L66.98,375.98 L67.11,375.89 L67.24,375.79 L67.37,375.70 L67.50,375.60 L67.63,375.50 L67.76,375.40 L67.89,375.30 L68.02,375.20 L68.15,375.10 L68.28,375.00 L68.41,374.89 L68.54,374.79 L68.67,374.68 L68.80,374.58 L68.93,374.47 L69.06,374.36 L69.19,374.25 L69.32,374.14 L69.45,374.03 L69.58,373.92 L69.71,373.81 L69.84,373.69 L69.97,373.58 L70.10,373.47 L70.23,373.35 L70.36,373.23 L70.49,373.12 L70.62,373.00 L70.75,372.88 L70.88,372.76 L71.01,372.64 L71.14,372.52 L71.27,372.40 L71.40,372.28 L71.53,372.16 L71.66,372.04 L71.79,371.91 L71.92,371.79 L72.05,371.67 L72.18,371.54 L72.31,371.42 L72.44,371.29 L72.57,371.16 L72.70,371.04 L72.83,370.91 L72.96,370.78 L73.09,370.66 L73.22,370.53 L73.35,370.40 L73.48,370.27 L73.61,370.14 L73.74,370.01 L73.87,369.88 L74.00,369.75 L74.14,369.62 L74.27,369.49 L74.40,369.35 L74.53,369.22 L74.66,369.09 L74.79,368.96 L74.92,368.82 L75.05,368.69 L75.18,368.56 L75.31,368.42 L75.44,368.29 L75.57,368.16 L75.70,368.02 L75.83,367.89 L75.96,367.75 L76.09,367.62 L76.22,367.48 L76.35,367.35 L76.48,367.21 L76.61,367.08 L76.74,366.94 L76.87,366.80 L77.00,366.67 L77.13,366.53 L77.26,366.40 L77.39,366.26 L77.52,366.13 L77.65,365.99 L77.78,365.85 L77.91,365.72 L78.04,365.58 L78.17,365.44 L78.30,365.31 L78.43,365.17 L79.73,363.82 L81.03,362.47 L82.33,361.16 L83.64,359.87 L84.94,358.63 L86.24,357.43 L87.54,356.28 L88.84,355.19 L90.14,354.14 L91.45,353.14 L92.75,352.20 L94.05,351.30 L95.35,350.44 L96.65,349.62 L97.95,348.85 L99.25,348.11 L100.56,347.40 L101.86,346.72 L103.16,346.08 L104.46,345.46 L105.76,344.87 L107.06,344.31 L108.36,343.77 L109.67,343.26 L110.97,342.77 L112.27,342.31 L113.57,341.87 L114.87,341.45 L116.17,341.06 L117.47,340.70 L118.78,340.35 L120.08,340.03 L121.38,339.73 L122.68,339.44 L123.98,339.18 L125.28,338.93 L126.59,338.69 L127.89,338.47 L129.19,338.27 L130.49,338.07 L131.79,337.89 L133.09,337.71 L134.39,337.54 L135.70,337.38 L137.00,337.22 L138.30,337.07 L139.60,336.93 L140.90,336.79 L142.20,336.66 L143.50,336.53 L144.81,336.41 L146.11,336.29 L147.41,336.18 L148.71,336.07 L150.01,335.97 L151.31,335.87 L152.62,335.77 L153.92,335.68 L155.22,335.60 L156.52,335.52 L157.82,335.44 L159.12,335.36 L160.42,335.29 L161.73,335.22 L163.03,335.16 L164.33,335.10 L165.63,335.04 L166.93,334.98 L168.23,334.93 L169.54,334.88 L170.84,334.83 L172.14,334.79 L173.44,334.74 L174.74,334.70 L176.04,334.66 L177.34,334.62 L178.65,334.59 L179.95,334.55 L181.25,334.52 L182.55,334.49 L183.85,334.46 L185.15,334.43 L186.45,334.41 L187.76,334.38 L189.06,334.36 L190.36,334.33 L191.66,334.31 L192.96,334.29 L194.26,334.27 L195.57,334.25 L196.87,334.23 L198.17,334.22 L199.47,334.20 L200.77,334.19 L202.07,334.17 L203.37,334.16 L204.68,334.14 L205.98,334.13 L207.28,334.12 L208.58,334.11 L209.88,334.10 L211.18,334.09 L212.48,334.08 L213.79,334.07 L215.09,334.06 L216.39,334.05 L217.69,334.04 L218.99,334.03 L220.29,334.03 L221.60,334.02 L222.90,334.01 L224.20,334.01 L225.50,334.00 L226.80,333.99 L228.10,333.99 L229.40,333.98 L230.71,333.98 L232.01,333.97 L233.31,333.97 L234.61,333.96 L235.91,333.96 L237.21,333.96 L238.51,333.95 L239.82,333.95 L241.12,333.95 L242.42,333.94 L243.72,333.94 L245.02,333.94 L246.32,333.93 L247.63,333.93 L248.93,333.93 L250.23,333.93 L251.53,333.92 L252.83,333.92 L254.13,333.92 L255.43,333.92 L256.74,333.92 L258.04,333.91 L259.34,333.91 L260.64,333.91 L261.94,333.91 L263.24,333.91 L264.54,333.91 L265.85,333.91 L267.15,333.90 L268.45,333.90 L269.75,333.90 L271.05,333.90 L272.35,333.90 L273.65,333.90 L274.96,333.90 L276.26,333.90 L277.56,333.90 L278.86,333.90 L280.16,333.90 L281.46,333.89 L282.77,333.89 L284.07,333.89 L285.37,333.89 L286.67,333.89 L287.97,333.89 L289.27,333.89 L290.57,333.89 L291.88,333.89 L293.18,333.89 L294.48,333.89 L295.78,333.89 L297.08,333.89 L298.38,333.89 L299.69,333.89 L300.99,333.89 L302.29,333.89 L303.59,333.89 L304.89,333.89 L306.19,333.89 L307.49,333.89 L308.80,333.89 L310.10,333.88 L311.40,333.88 L312.70,333.88" fill="none" stroke="#A5A5A5" stroke-width="3.9" stroke-linejoin="round"/>
<path d="M52.40,379.20 L52.53,379.20 L52.66,379.20 L52.79,379.20 L52.92,379.20 L53.05,379.20 L53.18,379.20 L53.31,379.20 L53.44,379.20 L53.57,379.20 L53.70,379.20 L53.83,379.20 L53.96,379.20 L54.09,379.20 L54.22,379.20 L54.35,379.20 L54.48,379.20 L54.61,379.20 L54.74,379.20 L54.87,379.20 L55.00,379.20 L55.13,379.20 L55.26,379.20 L55.39,379.20 L55.52,379.20 L55.65,379.20 L55.78,379.20 L55.91,379.20 L56.04,379.20 L56.17,379.20 L56.30,379.20 L56.43,379.20 L56.56,379.20 L56.69,379.20 L56.83,379.20 L56.96,379.20 L57.09,379.19 L57.22,379.19 L57.35,379.19 L57.48,379.19 L57.61,379.19 L57.74,379.18 L57.87,379.18 L58.00,379.17 L58.13,379.17 L58.26,379.16 L58.39,379.16 L58.52,379.15 L58.65,379.14 L58.78,379.13 L58.91,379.12 L59.04,379.11 L59.17,379.10 L59.30,379.08 L59.43,379.07 L59.56,379.05 L59.69,379.04 L59.82,379.02 L59.95,379.00 L60.08,378.98 L60.21,378.95 L60.34,378.93 L60.47,378.90 L60.60,378.87 L60.73,378.85 L60.86,378.81 L60.99,378.78 L61.12,378.75 L61.25,378.71 L61.38,378.67 L61.51,378.64 L61.64,378.59 L61.77,378.55 L61.90,378.51 L62.03,378.46 L62.16,378.41 L62.29,378.36 L62.42,378.31 L62.55,378.26 L62.68,378.20 L62.81,378.15 L62.94,378.09 L63.07,378.03 L63.20,377.96 L63.33,377.90 L63.46,377.83 L63.59,377.77 L63.72,377.70 L63.85,377.63 L63.98,377.55 L64.11,377.48 L64.24,377.40 L64.37,377.32 L64.50,377.25 L64.63,377.16 L64.76,377.08 L64.89,377.00 L65.02,376.91 L65.15,376.83 L65.28,376.74 L65.41,376.65 L65.55,376.56 L65.68,376.46 L65.81,376.37 L65.94,376.27 L66.07,376.18 L66.20,376.08 L66.33,375.98 L66.46,375.88 L66.59,375.78 L66.72,375.67 L66.85,375.57 L66.98,375.46 L67.11,375.36 L67.24,375.25 L67.37,375.14 L67.50,375.03 L67.63,374.92 L67.76,374.81 L67.89,374.69 L68.02,374.58 L68.15,374.46 L68.28,374.35 L68.41,374.23 L68.54,374.11 L68.67,374.00 L68.80,373.88 L68.93,373.76 L69.06,373.64 L69.19,373.52 L69.32,373.39 L69.45,373.27 L69.58,373.15 L69.71,373.02 L69.84,372.90 L69.97,372.77 L70.10,372.65 L70.23,372.52 L70.36,372.39 L70.49,372.27 L70.62,372.14 L70.75,372.01 L70.88,371.88 L71.01,371.75 L71.14,371.62 L71.27,371.49 L71.40,371.36 L71.53,371.23 L71.66,371.10 L71.79,370.97 L71.92,370.83 L72.05,370.70 L72.18,370.57 L72.31,370.44 L72.44,370.30 L72.57,370.17 L72.70,370.04 L72.83,369.90 L72.96,369.77 L73.09,369.64 L73.22,369.50 L73.35,369.37 L73.48,369.23 L73.61,369.10 L73.74,368.96 L73.87,368.83 L74.00,368.70 L74.14,368.56 L74.27,368.43 L74.40,368.29 L74.53,368.16 L74.66,368.02 L74.79,367.89 L74.92,367.75 L75.05,367.62 L75.18,367.48 L75.31,367.35 L75.44,367.21 L75.57,367.08 L75.70,366.95 L75.83,366.81 L75.96,366.68 L76.09,366.54 L76.22,366.41 L76.35,366.28 L76.48,366.14 L76.61,366.01 L76.74,365.88 L76.87,365.74 L77.00,365.61 L77.13,365.48 L77.26,365.35 L77.39,365.21 L77.52,365.08 L77.65,364.95 L77.78,364.82 L77.91,364.69 L78.04,364.56 L78.17,364.43 L78.30,364.30 L78.43,364.17 L79.73,362.88 L81.03,361.62 L82.33,360.40 L83.64,359.22 L84.94,358.08 L86.24,356.98 L87.54,355.92 L88.84,354.90 L90.14,353.93 L91.45,352.99 L92.75,352.09 L94.05,351.24 L95.35,350.42 L96.65,349.63 L97.95,348.89 L99.25,348.17 L100.56,347.49 L101.86,346.84 L103.16,346.22 L104.46,345.63 L105.76,345.07 L107.06,344.53 L108.36,344.02 L109.67,343.54 L110.97,343.07 L112.27,342.63 L113.57,342.21 L114.87,341.81 L116.17,341.43 L117.47,341.07 L118.78,340.72 L120.08,340.39 L121.38,340.08 L122.68,339.78 L123.98,339.50 L125.28,339.23 L126.59,338.97 L127.89,338.72 L129.19,338.49 L130.49,338.27 L131.79,338.06 L133.09,337.86 L134.39,337.67 L135.70,337.48 L137.00,337.31 L138.30,337.14 L139.60,336.99 L140.90,336.84 L142.20,336.70 L143.50,336.56 L144.81,336.43 L146.11,336.31 L147.41,336.19 L148.71,336.08 L150.01,335.97 L151.31,335.87 L152.62,335.78 L153.92,335.69 L155.22,335.60 L156.52,335.52 L157.82,335.44 L159.12,335.36 L160.42,335.29 L161.73,335.22 L163.03,335.16 L164.33,335.10 L165.63,335.04 L166.93,334.98 L168.23,334.93 L169.54,334.88 L170.84,334.83 L172.14,334.79 L173.44,334.74 L174.74,334.70 L176.04,334.66 L177.34,334.62 L178.65,334.59 L179.95,334.55 L181.25,334.52 L182.55,334.49 L183.85,334.46 L185.15,334.43 L186.45,334.41 L187.76,334.38 L189.06,334.36 L190.36,334.33 L191.66,334.31 L192.96,334.29 L194.26,334.27 L195.57,334.25 L196.87,334.23 L198.17,334.22 L199.47,334.20 L200.77,334.19 L202.07,334.17 L203.37,334.16 L204.68,334.14 L205.98,334.13 L207.28,334.12 L208.58,334.11 L209.88,334.10 L211.18,334.09 L212.48,334.08 L213.79,334.07 L215.09,334.06 L216.39,334.05 L217.69,334.04 L218.99,334.03 L220.29,334.03 L221.60,334.02 L222.90,334.01 L224.20,334.01 L225.50,334.00 L226.80,333.99 L228.10,333.99 L229.40,333.98 L230.71,333.98 L232.01,333.97 L233.31,333.97 L234.61,333.96 L235.91,333.96 L237.21,333.96 L238.51,333.95 L239.82,333.95 L241.12,333.95 L242.42,333.94 L243.72,333.94 L245.02,333.94 L246.32,333.93 L247.63,333.93 L248.93,333.93 L250.23,333.93 L251.53,333.92 L252.83,333.92 L254.13,333.92 L255.43,333.92 L256.74,333.92 L258.04,333.91 L259.34,333.91 L260.64,333.91 L261.94,333.91 L263.24,333.91 L264.54,333.91 L265.85,333.91 L267.15,333.90 L268.45,333.90 L269.75,333.90 L271.05,333.90 L272.35,333.90 L273.65,333.90 L274.96,333.90 L276.26,333.90 L277.56,333.90 L278.86,333.90 L280.16,333.90 L281.46,333.89 L282.77,333.89 L284.07,333.89 L285.37,333.89 L286.67,333.89 L287.97,333.89 L289.27,333.89 L290.57,333.89 L291.88,333.89 L293.18,333.89 L294.48,333.89 L295.78,333.89 L297.08,333.89 L298.38,333.89 L299.69,333.89 L300.99,333.89 L302.29,333.89 L303.59,333.89 L304.89,333.89 L306.19,333.89 L307.49,333.89 L308.80,333.89 L310.10,333.88 L311.40,333.88 L312.70,333.88" fill="none" stroke="#000" stroke-width="1.0" stroke-linejoin="round"/>
<text x="100.00" y="149.60" font-size="13.2" font-family='"Liberation Sans", sans-serif' fill="#000" font-weight="bold" textLength="38.50" lengthAdjust="spacingAndGlyphs">EFT12</text>
<text x="141.50" y="149.60" font-size="14" font-family='"Liberation Serif", serif' fill="#000" textLength="128.20" lengthAdjust="spacingAndGlyphs">(variable time step)</text>
<text x="252.40" y="167.20" font-size="14" font-family='"Liberation Sans", sans-serif' fill="#000" textLength="53.20" lengthAdjust="spacingAndGlyphs">Node 11</text>
<text x="252.40" y="237.90" font-size="14" font-family='"Liberation Sans", sans-serif' fill="#000" textLength="53.20" lengthAdjust="spacingAndGlyphs">Node 14</text>
<text x="252.40" y="322.80" font-size="14" font-family='"Liberation Sans", sans-serif' fill="#000" textLength="53.20" lengthAdjust="spacingAndGlyphs">Node 18</text>
<text x="109.40" y="284.30" font-size="13.6" font-family='"Liberation Sans", sans-serif' fill="#000" textLength="40.00" lengthAdjust="spacingAndGlyphs">ETF 12</text>
<text x="155.20" y="284.30" font-size="14.5" font-family='"Liberation Serif", serif' fill="#000">Δ</text>
<text x="165.20" y="284.30" font-size="13.6" font-family='"Liberation Sans", sans-serif' fill="#000">t</text>
<text x="173.90" y="284.30" font-size="13.6" font-family='"Liberation Sans", sans-serif' fill="#000" textLength="6.80" lengthAdjust="spacingAndGlyphs">=</text>
<text x="188.30" y="284.30" font-size="13.6" font-family='"Liberation Sans", sans-serif' fill="#000" textLength="43.30" lengthAdjust="spacingAndGlyphs">0.0016</text>
<text x="240.00" y="284.30" font-size="13.6" font-family='"Liberation Sans", sans-serif' fill="#000" textLength="7.00" lengthAdjust="spacingAndGlyphs">δ</text>
<text x="255.10" y="284.30" font-size="13.6" font-family='"Liberation Sans", sans-serif' fill="#000" textLength="6.80" lengthAdjust="spacingAndGlyphs">=</text>
<text x="270.20" y="284.30" font-size="13.6" font-family='"Liberation Sans", sans-serif' fill="#000" textLength="43.00" lengthAdjust="spacingAndGlyphs">0.9359</text>
<text x="109.40" y="302.90" font-size="13.6" font-family='"Liberation Sans", sans-serif' fill="#000" textLength="67.50" lengthAdjust="spacingAndGlyphs">SUP = 31.4</text>
<line x1="158.2" y1="365.3" x2="178.8" y2="365.3" stroke="#000" stroke-width="1.4"/>
<text x="185.60" y="370.70" font-size="14" font-family='"Liberation Sans", sans-serif' fill="#000" textLength="21.90" lengthAdjust="spacingAndGlyphs">REF</text>
<text x="169.40" y="405.00" font-size="14" font-family='"Liberation Sans", sans-serif' fill="#000" textLength="30.80" lengthAdjust="spacingAndGlyphs">Time</text>
<g transform="translate(13.3,317.8) rotate(-90)">
<text x="0.00" y="0.00" font-size="14" font-family='"Liberation Sans", sans-serif' fill="#000" textLength="92.60" lengthAdjust="spacingAndGlyphs">Temperature</text>
<text x="99.60" y="-1.00" font-size="20" font-family='"Liberation Serif", serif' fill="#000">ϕ</text>
</g>
<line x1="419.6" y1="378.80" x2="675.5" y2="378.80" stroke="#DCDCDC" stroke-width="0.75"/>
<text x="410.30" y="381.70" font-size="9.0" font-family='"Liberation Sans", sans-serif' fill="#5f5f5f" font-weight="bold" text-anchor="end">0,00</text>
<line x1="419.6" y1="356.33" x2="675.5" y2="356.33" stroke="#DCDCDC" stroke-width="0.75"/>
<text x="410.30" y="359.23" font-size="9.0" font-family='"Liberation Sans", sans-serif' fill="#5f5f5f" font-weight="bold" text-anchor="end">0,01</text>
<line x1="419.6" y1="333.86" x2="675.5" y2="333.86" stroke="#DCDCDC" stroke-width="0.75"/>
<text x="410.30" y="336.76" font-size="9.0" font-family='"Liberation Sans", sans-serif' fill="#5f5f5f" font-weight="bold" text-anchor="end">0,02</text>
<line x1="419.6" y1="311.39" x2="675.5" y2="311.39" stroke="#DCDCDC" stroke-width="0.75"/>
<text x="410.30" y="314.29" font-size="9.0" font-family='"Liberation Sans", sans-serif' fill="#5f5f5f" font-weight="bold" text-anchor="end">0,03</text>
<line x1="419.6" y1="288.92" x2="675.5" y2="288.92" stroke="#DCDCDC" stroke-width="0.75"/>
<text x="410.30" y="291.82" font-size="9.0" font-family='"Liberation Sans", sans-serif' fill="#5f5f5f" font-weight="bold" text-anchor="end">0,04</text>
<line x1="419.6" y1="266.45" x2="675.5" y2="266.45" stroke="#DCDCDC" stroke-width="0.75"/>
<text x="410.30" y="269.35" font-size="9.0" font-family='"Liberation Sans", sans-serif' fill="#5f5f5f" font-weight="bold" text-anchor="end">0,05</text>
<line x1="419.6" y1="243.98" x2="675.5" y2="243.98" stroke="#DCDCDC" stroke-width="0.75"/>
<text x="410.30" y="246.88" font-size="9.0" font-family='"Liberation Sans", sans-serif' fill="#5f5f5f" font-weight="bold" text-anchor="end">0,06</text>
<line x1="419.6" y1="221.51" x2="675.5" y2="221.51" stroke="#DCDCDC" stroke-width="0.75"/>
<text x="410.30" y="224.41" font-size="9.0" font-family='"Liberation Sans", sans-serif' fill="#5f5f5f" font-weight="bold" text-anchor="end">0,07</text>
<line x1="419.6" y1="199.04" x2="675.5" y2="199.04" stroke="#DCDCDC" stroke-width="0.75"/>
<text x="410.30" y="201.94" font-size="9.0" font-family='"Liberation Sans", sans-serif' fill="#5f5f5f" font-weight="bold" text-anchor="end">0,08</text>
<line x1="419.6" y1="176.57" x2="675.5" y2="176.57" stroke="#DCDCDC" stroke-width="0.75"/>
<text x="410.30" y="179.47" font-size="9.0" font-family='"Liberation Sans", sans-serif' fill="#5f5f5f" font-weight="bold" text-anchor="end">0,09</text>
<line x1="419.6" y1="154.10" x2="675.5" y2="154.10" stroke="#DCDCDC" stroke-width="0.75"/>
<text x="410.30" y="157.00" font-size="9.0" font-family='"Liberation Sans", sans-serif' fill="#5f5f5f" font-weight="bold" text-anchor="end">0,10</text>
<line x1="419.60" y1="154.1" x2="419.60" y2="378.8" stroke="#DCDCDC" stroke-width="0.75"/>
<text x="420.20" y="395.40" font-size="8.9" font-family='"Liberation Sans", sans-serif' fill="#5f5f5f" font-weight="bold" text-anchor="middle">0,00</text>
<line x1="445.19" y1="154.1" x2="445.19" y2="378.8" stroke="#DCDCDC" stroke-width="0.75"/>
<text x="445.79" y="395.40" font-size="8.9" font-family='"Liberation Sans", sans-serif' fill="#5f5f5f" font-weight="bold" text-anchor="middle">0,10</text>
<line x1="470.78" y1="154.1" x2="470.78" y2="378.8" stroke="#DCDCDC" stroke-width="0.75"/>
<text x="471.38" y="395.40" font-size="8.9" font-family='"Liberation Sans", sans-serif' fill="#5f5f5f" font-weight="bold" text-anchor="middle">0,20</text>
<line x1="496.37" y1="154.1" x2="496.37" y2="378.8" stroke="#DCDCDC" stroke-width="0.75"/>
<text x="496.97" y="395.40" font-size="8.9" font-family='"Liberation Sans", sans-serif' fill="#5f5f5f" font-weight="bold" text-anchor="middle">0,30</text>
<line x1="521.96" y1="154.1" x2="521.96" y2="378.8" stroke="#DCDCDC" stroke-width="0.75"/>
<text x="522.56" y="395.40" font-size="8.9" font-family='"Liberation Sans", sans-serif' fill="#5f5f5f" font-weight="bold" text-anchor="middle">0,40</text>
<line x1="547.55" y1="154.1" x2="547.55" y2="378.8" stroke="#DCDCDC" stroke-width="0.75"/>
<text x="548.15" y="395.40" font-size="8.9" font-family='"Liberation Sans", sans-serif' fill="#5f5f5f" font-weight="bold" text-anchor="middle">0,50</text>
<line x1="573.14" y1="154.1" x2="573.14" y2="378.8" stroke="#DCDCDC" stroke-width="0.75"/>
<text x="573.74" y="395.40" font-size="8.9" font-family='"Liberation Sans", sans-serif' fill="#5f5f5f" font-weight="bold" text-anchor="middle">0,60</text>
<line x1="598.73" y1="154.1" x2="598.73" y2="378.8" stroke="#DCDCDC" stroke-width="0.75"/>
<text x="599.33" y="395.40" font-size="8.9" font-family='"Liberation Sans", sans-serif' fill="#5f5f5f" font-weight="bold" text-anchor="middle">0,70</text>
<line x1="624.32" y1="154.1" x2="624.32" y2="378.8" stroke="#DCDCDC" stroke-width="0.75"/>
<text x="624.92" y="395.40" font-size="8.9" font-family='"Liberation Sans", sans-serif' fill="#5f5f5f" font-weight="bold" text-anchor="middle">0,80</text>
<line x1="649.91" y1="154.1" x2="649.91" y2="378.8" stroke="#DCDCDC" stroke-width="0.75"/>
<text x="650.51" y="395.40" font-size="8.9" font-family='"Liberation Sans", sans-serif' fill="#5f5f5f" font-weight="bold" text-anchor="middle">0,90</text>
<line x1="675.50" y1="154.1" x2="675.50" y2="378.8" stroke="#DCDCDC" stroke-width="0.75"/>
<text x="676.10" y="395.40" font-size="8.9" font-family='"Liberation Sans", sans-serif' fill="#5f5f5f" font-weight="bold" text-anchor="middle">1,00</text>
<clipPath id="rc"><rect x="417.6" y="154.1" width="259.9" height="227.70000000000002"/></clipPath>
<g clip-path="url(#rc)">
<path d="M423.21,-388.43 L423.34,-358.09 L423.46,-298.25 L423.59,-234.61 L423.72,-175.71 L423.85,-123.59 L423.98,-78.13 L424.10,-38.61 L424.23,-4.18 L424.36,25.93 L424.49,52.39 L424.62,75.76 L424.74,97.13 L424.87,118.28 L425.00,136.88 L425.13,153.32 L425.26,167.95 L425.38,181.02 L425.51,192.76 L425.64,203.36 L425.77,212.96 L425.90,221.69 L426.02,229.66 L426.15,236.96 L426.28,243.67 L426.41,249.85 L426.53,255.55 L426.66,260.84 L426.79,265.74 L426.92,270.30 L427.05,274.56 L427.17,278.53 L427.30,282.25 L427.43,285.74 L427.56,289.02 L427.69,292.10 L427.81,295.00 L427.94,297.74 L428.07,300.33 L428.20,302.78 L428.33,305.09 L428.45,307.29 L428.58,309.38 L428.71,311.37 L428.84,313.26 L428.97,315.06 L429.09,316.77 L429.22,318.41 L429.35,319.97 L429.48,321.47 L429.61,322.90 L429.73,324.27 L429.86,325.59 L429.99,326.84 L430.12,328.05 L430.25,329.22 L430.37,330.33 L430.50,331.41 L430.63,332.44 L430.76,333.43 L430.89,334.39 L431.01,335.32 L431.14,336.21 L431.27,337.07 L431.40,337.90 L431.52,338.70 L431.65,339.48 L431.78,340.23 L431.91,340.95 L432.04,341.66 L432.16,342.34 L432.29,343.00 L432.42,343.64 L432.55,344.26 L432.68,344.86 L432.80,345.44 L432.93,346.01 L433.06,346.56 L433.19,347.09 L433.32,347.61 L433.44,348.12 L433.57,348.61 L433.70,349.08 L433.83,349.55 L433.96,350.00 L434.08,350.44 L434.21,350.87 L434.34,351.29 L434.47,351.69 L434.60,352.09 L434.72,352.48 L434.85,352.86 L434.98,353.22 L435.11,353.58 L435.24,353.93 L435.36,354.27 L435.49,354.61 L435.62,354.94 L435.75,355.25 L435.88,355.57 L436.00,355.87 L436.13,356.17 L436.26,356.46 L436.39,356.74 L436.51,357.02 L436.64,357.29 L436.77,357.56 L436.90,357.82 L437.03,358.07 L437.15,358.32 L437.28,358.57 L437.41,358.81 L437.54,359.04 L437.67,359.27 L437.79,359.50 L437.92,359.72 L438.05,359.93 L438.18,360.15 L438.31,360.35 L438.43,360.56 L438.56,360.76 L438.69,360.95 L438.82,361.15 L438.95,361.33 L439.07,361.52 L439.20,361.70 L439.33,361.88 L439.46,362.05 L439.59,362.22 L439.71,362.39 L439.84,362.56 L439.97,362.72 L440.10,362.88 L440.23,363.04 L440.35,363.19 L440.48,363.34 L440.61,363.49 L440.74,363.64 L440.87,363.78 L440.99,363.92 L441.12,364.06 L441.25,364.19 L441.38,364.33 L441.51,364.46 L441.63,364.59 L441.76,364.71 L441.89,364.84 L442.02,364.96 L442.14,365.08 L442.27,365.20 L442.40,365.32 L442.53,365.43 L442.66,365.55 L442.78,365.66 L442.91,365.77 L443.04,365.88 L443.17,365.98 L443.30,366.09 L443.42,366.19 L443.55,366.29 L443.68,366.39 L443.81,366.49 L443.94,366.58 L444.06,366.68 L444.19,366.77 L444.32,366.86 L444.45,366.95 L444.58,367.04 L444.70,367.13 L444.83,367.21 L444.96,367.30 L445.09,367.38 L445.22,367.47 L445.34,367.55 L445.47,367.63 L445.60,367.71 L445.73,367.78 L445.86,367.86 L445.98,367.93 L446.11,368.01 L446.24,368.08 L446.37,368.15 L446.50,368.22 L446.62,368.29 L446.75,368.36 L446.88,368.43 L447.01,368.50 L447.13,368.56 L447.26,368.63 L447.39,368.69 L447.52,368.76 L447.65,368.82 L447.77,368.88 L447.90,368.94 L448.03,369.00 L448.16,369.06 L448.29,369.11 L448.41,369.17 L448.54,369.23 L448.67,369.28 L448.80,369.34 L448.93,369.39 L449.05,369.44 L449.18,369.50 L449.31,369.55 L449.44,369.60 L449.57,369.65 L449.69,369.70 L449.82,369.75 L449.95,369.80 L450.08,369.84 L450.21,369.89 L450.33,369.94 L450.46,369.98 L450.59,370.03 L450.72,370.07 L450.85,370.12 L450.97,370.16 L451.10,370.20 L451.23,370.24 L451.36,370.29 L451.49,370.33 L451.61,370.37 L451.74,370.41 L451.87,370.45 L452.00,370.49 L452.12,370.53 L452.25,370.56 L452.38,370.60 L452.51,370.64 L452.64,370.68 L452.76,370.71 L452.89,370.75 L453.02,370.78 L453.15,370.82 L453.28,370.85 L453.40,370.89 L453.53,370.92 L453.66,370.96 L453.79,370.99 L453.92,371.02 L454.04,371.06 L454.17,371.09 L454.30,371.12 L454.43,371.15 L454.56,371.18 L454.68,371.21 L454.81,371.24 L454.94,371.28 L455.07,371.31 L455.20,371.34 L455.32,371.36 L455.45,371.39 L455.58,371.42 L455.71,371.45 L455.84,371.48 L455.96,371.51 L456.09,371.54 L456.22,371.57 L456.35,371.59 L456.48,371.62 L456.60,371.65 L456.73,371.68 L456.86,371.70 L456.99,371.73 L457.11,371.76 L457.24,371.78 L457.37,371.81 L457.50,371.84 L457.63,371.86 L457.75,371.89 L457.88,371.91 L458.01,371.94 L458.14,371.97 L458.27,371.99 L458.39,372.02 L458.52,372.04 L458.65,372.07 L458.78,372.09 L458.91,372.12 L459.03,372.14 L459.16,372.17 L459.29,372.19 L459.42,372.22 L459.55,372.24 L459.67,372.27 L459.80,372.29 L459.93,372.32 L460.06,372.34 L460.19,372.36 L460.31,372.39 L460.44,372.41 L460.57,372.44 L460.70,372.46 L460.83,372.49 L460.95,372.51 L461.08,372.53 L461.21,372.56 L461.34,372.58 L461.47,372.61 L461.59,372.63 L461.72,372.66 L461.85,372.68 L461.98,372.70 L462.10,372.73 L462.23,372.75 L462.36,372.78 L462.49,372.80 L462.62,372.83 L462.74,372.85 L462.87,372.87 L463.00,372.90 L463.13,372.92 L463.26,372.95 L463.38,372.97 L463.51,373.00 L463.64,373.02 L463.77,373.05 L463.90,373.07 L464.02,373.09 L464.15,373.12 L464.28,373.14 L464.41,373.17 L464.54,373.19 L464.66,373.22 L464.79,373.24 L464.92,373.27 L465.05,373.29 L465.18,373.32 L465.30,373.34 L465.43,373.37 L465.56,373.39 L465.69,373.42 L465.82,373.44 L465.94,373.47 L466.07,373.49 L466.20,373.52 L466.33,373.54 L466.46,373.57 L466.58,373.59 L466.71,373.62 L466.84,373.65 L466.97,373.67 L467.10,373.70 L467.22,373.72 L467.35,373.75 L467.48,373.77 L467.61,373.80 L467.73,373.82 L467.86,373.85 L467.99,373.88 L468.12,373.90 L468.25,373.93 L468.37,373.95 L468.50,373.98 L468.63,374.00 L468.76,374.03 L468.89,374.06 L469.01,374.08 L469.14,374.11 L469.27,374.13 L469.40,374.16 L469.53,374.19 L469.65,374.21 L469.78,374.24 L469.91,374.26 L470.04,374.29 L470.17,374.31 L470.29,374.34 L470.42,374.37 L470.55,374.39 L470.68,374.42 L470.81,374.44 L470.93,374.47 L471.06,374.49 L471.19,374.52 L471.32,374.55 L471.45,374.57 L471.57,374.60 L471.70,374.62 L471.83,374.65 L471.96,374.67 L472.09,374.70 L472.21,374.72 L472.34,374.75 L472.47,374.77 L472.60,374.80 L472.72,374.83 L472.85,374.85 L472.98,374.88 L473.11,374.90 L473.24,374.92 L473.36,374.95 L474.64,375.19 L475.92,375.43 L477.20,375.65 L478.48,375.86 L479.76,376.06 L481.04,376.25 L482.32,376.42 L483.60,376.57 L484.88,376.72 L486.16,376.85 L487.44,376.97 L488.72,377.08 L490.00,377.18 L491.28,377.27 L492.56,377.35 L493.84,377.43 L495.12,377.50 L496.40,377.57 L497.68,377.63 L498.95,377.69 L500.23,377.75 L501.51,377.80 L502.79,377.85 L504.07,377.89 L505.35,377.94 L506.63,377.98 L507.91,378.02 L509.19,378.06 L510.47,378.09 L511.75,378.13 L513.03,378.16 L514.31,378.19 L515.59,378.22 L516.87,378.25 L518.15,378.27 L519.43,378.30 L520.71,378.32 L521.99,378.35 L523.27,378.37 L524.54,378.39 L525.82,378.41 L527.10,378.43 L528.38,378.45 L529.66,378.46 L530.94,378.48 L532.22,378.49 L533.50,378.51 L534.78,378.52 L536.06,378.54 L537.34,378.55 L538.62,378.56 L539.90,378.57 L541.18,378.58 L542.46,378.59 L543.74,378.60 L545.02,378.61 L546.30,378.62 L547.58,378.63 L548.86,378.64 L550.13,378.65 L551.41,378.65 L552.69,378.66 L553.97,378.67 L555.25,378.67 L556.53,378.68 L557.81,378.69 L559.09,378.69 L560.37,378.70 L561.65,378.70 L562.93,378.71 L564.21,378.71 L565.49,378.72 L566.77,378.72 L568.05,378.72 L569.33,378.73 L570.61,378.73 L571.89,378.73 L573.17,378.74 L574.45,378.74 L575.72,378.74 L577.00,378.75 L578.28,378.75 L579.56,378.75 L580.84,378.75 L582.12,378.76 L583.40,378.76 L584.68,378.76 L585.96,378.76 L587.24,378.76 L588.52,378.77 L589.80,378.77 L591.08,378.77 L592.36,378.77 L593.64,378.77 L594.92,378.77 L596.20,378.77 L597.48,378.78 L598.76,378.78 L600.04,378.78 L601.31,378.78 L602.59,378.78 L603.87,378.78 L605.15,378.78 L606.43,378.78 L607.71,378.78 L608.99,378.78 L610.27,378.78 L611.55,378.79 L612.83,378.79 L614.11,378.79 L615.39,378.79 L616.67,378.79 L617.95,378.79 L619.23,378.79 L620.51,378.79 L621.79,378.79 L623.07,378.79 L624.35,378.79 L625.63,378.79 L626.90,378.79 L628.18,378.79 L629.46,378.79 L630.74,378.79 L632.02,378.79 L633.30,378.79 L634.58,378.79 L635.86,378.79 L637.14,378.79 L638.42,378.79 L639.70,378.80 L640.98,378.80 L642.26,378.80 L643.54,378.80 L644.82,378.80 L646.10,378.80 L647.38,378.80 L648.66,378.80 L649.94,378.80 L651.22,378.80 L652.49,378.80 L653.77,378.80 L655.05,378.80 L656.33,378.80 L657.61,378.80 L658.89,378.80 L660.17,378.80 L661.45,378.80 L662.73,378.80 L664.01,378.80 L665.29,378.80 L666.57,378.80 L667.85,378.80 L669.13,378.80 L670.41,378.80 L671.69,378.80 L672.97,378.80 L674.25,378.80 L675.53,378.80" fill="none" stroke="#5B9BD5" stroke-width="1.25" stroke-linejoin="round"/>
<path d="M422.18,343.52 L422.31,342.76 L422.44,341.99 L422.57,341.23 L422.70,340.46 L422.82,339.70 L422.95,338.94 L423.08,338.17 L423.21,336.50 L423.34,334.54 L423.46,332.69 L423.59,330.97 L423.72,329.37 L423.85,327.89 L423.98,326.52 L424.10,325.26 L424.23,324.11 L424.36,323.06 L424.49,322.10 L424.62,321.24 L424.74,320.46 L424.87,319.76 L425.00,319.15 L425.13,318.60 L425.26,318.12 L425.38,317.71 L425.51,317.36 L425.64,317.06 L425.77,316.81 L425.90,316.62 L426.02,316.47 L426.15,316.36 L426.28,316.29 L426.41,316.26 L426.53,316.26 L426.66,316.29 L426.79,316.35 L426.92,316.44 L427.05,316.56 L427.17,316.70 L427.30,316.86 L427.43,317.04 L427.56,317.23 L427.69,317.45 L427.81,317.68 L427.94,317.92 L428.07,318.18 L428.20,318.45 L428.33,318.73 L428.45,319.02 L428.58,319.31 L428.71,319.62 L428.84,319.93 L428.97,320.25 L429.09,320.58 L429.22,320.91 L429.35,321.25 L429.48,321.59 L429.61,321.93 L429.73,322.28 L429.86,322.63 L429.99,322.98 L430.12,323.33 L430.25,323.69 L430.37,324.04 L430.50,324.40 L430.63,324.76 L430.76,325.12 L430.89,325.48 L431.01,325.83 L431.14,326.19 L431.27,326.55 L431.40,326.90 L431.52,327.26 L431.65,327.62 L431.78,327.97 L431.91,328.32 L432.04,328.67 L432.16,329.02 L432.29,329.37 L432.42,329.71 L432.55,330.06 L432.68,330.40 L432.80,330.74 L432.93,331.08 L433.06,331.41 L433.19,331.75 L433.32,332.08 L433.44,332.41 L433.57,332.73 L433.70,333.06 L433.83,333.38 L433.96,333.70 L434.08,334.02 L434.21,334.33 L434.34,334.65 L434.47,334.96 L434.60,335.27 L434.72,335.57 L434.85,335.88 L434.98,336.18 L435.11,336.48 L435.24,336.77 L435.36,337.07 L435.49,337.36 L435.62,337.65 L435.75,337.93 L435.88,338.22 L436.00,338.50 L436.13,338.78 L436.26,339.06 L436.39,339.34 L436.51,339.61 L436.64,339.88 L436.77,340.15 L436.90,340.42 L437.03,340.68 L437.15,340.94 L437.28,341.20 L437.41,341.46 L437.54,341.72 L437.67,341.97 L437.79,342.23 L437.92,342.48 L438.05,342.72 L438.18,342.97 L438.31,343.22 L438.43,343.46 L438.56,343.70 L438.69,343.94 L438.82,344.17 L438.95,344.41 L439.07,344.64 L439.20,344.87 L439.33,345.10 L439.46,345.33 L439.59,345.56 L439.71,345.78 L439.84,346.01 L439.97,346.23 L440.10,346.45 L440.23,346.66 L440.35,346.88 L440.48,347.10 L440.61,347.31 L440.74,347.52 L440.87,347.73 L440.99,347.94 L441.12,348.14 L441.25,348.35 L441.38,348.55 L441.51,348.75 L441.63,348.95 L441.76,349.15 L441.89,349.35 L442.02,349.55 L442.14,349.74 L442.27,349.93 L442.40,350.12 L442.53,350.31 L442.66,350.50 L442.78,350.69 L442.91,350.87 L443.04,351.06 L443.17,351.24 L443.30,351.42 L443.42,351.60 L443.55,351.78 L443.68,351.95 L443.81,352.13 L443.94,352.30 L444.06,352.47 L444.19,352.64 L444.32,352.81 L444.45,352.98 L444.58,353.15 L444.70,353.31 L444.83,353.47 L444.96,353.63 L445.09,353.79 L445.22,353.95 L445.34,354.11 L445.47,354.26 L445.60,354.42 L445.73,354.57 L445.86,354.72 L445.98,354.87 L446.11,355.01 L446.24,355.16 L446.37,355.31 L446.50,355.45 L446.62,355.59 L446.75,355.73 L446.88,355.87 L447.01,356.00 L447.13,356.14 L447.26,356.27 L447.39,356.41 L447.52,356.54 L447.65,356.67 L447.77,356.79 L447.90,356.92 L448.03,357.04 L448.16,357.17 L448.29,357.29 L448.41,357.41 L448.54,357.53 L448.67,357.65 L448.80,357.76 L448.93,357.88 L449.05,357.99 L449.18,358.10 L449.31,358.22 L449.44,358.32 L449.57,358.43 L449.69,358.54 L449.82,358.65 L449.95,358.75 L450.08,358.85 L450.21,358.96 L450.33,359.06 L450.46,359.16 L450.59,359.25 L450.72,359.35 L450.85,359.45 L450.97,359.54 L451.10,359.64 L451.23,359.73 L451.36,359.82 L451.49,359.91 L451.61,360.00 L451.74,360.09 L451.87,360.18 L452.00,360.26 L452.12,360.35 L452.25,360.43 L452.38,360.52 L452.51,360.60 L452.64,360.68 L452.76,360.76 L452.89,360.84 L453.02,360.92 L453.15,361.00 L453.28,361.08 L453.40,361.16 L453.53,361.23 L453.66,361.31 L453.79,361.38 L453.92,361.46 L454.04,361.53 L454.17,361.60 L454.30,361.68 L454.43,361.75 L454.56,361.82 L454.68,361.89 L454.81,361.96 L454.94,362.02 L455.07,362.09 L455.20,362.16 L455.32,362.23 L455.45,362.29 L455.58,362.36 L455.71,362.42 L455.84,362.49 L455.96,362.55 L456.09,362.61 L456.22,362.68 L456.35,362.74 L456.48,362.80 L456.60,362.86 L456.73,362.92 L456.86,362.98 L456.99,363.04 L457.11,363.10 L457.24,363.15 L457.37,363.21 L457.50,363.27 L457.63,363.32 L457.75,363.38 L457.88,363.43 L458.01,363.49 L458.14,363.54 L458.27,363.59 L458.39,363.65 L458.52,363.70 L458.65,363.75 L458.78,363.80 L458.91,363.85 L459.03,363.90 L459.16,363.95 L459.29,364.00 L459.42,364.05 L459.55,364.09 L459.67,364.14 L459.80,364.19 L459.93,364.23 L460.06,364.28 L460.19,364.32 L460.31,364.37 L460.44,364.41 L460.57,364.45 L460.70,364.50 L460.83,364.54 L460.95,364.58 L461.08,364.62 L461.21,364.66 L461.34,364.70 L461.47,364.74 L461.59,364.78 L461.72,364.82 L461.85,364.86 L461.98,364.89 L462.10,364.93 L462.23,364.97 L462.36,365.00 L462.49,365.04 L462.62,365.08 L462.74,365.11 L462.87,365.15 L463.00,365.18 L463.13,365.22 L463.26,365.25 L463.38,365.28 L463.51,365.32 L463.64,365.35 L463.77,365.38 L463.90,365.41 L464.02,365.45 L464.15,365.48 L464.28,365.51 L464.41,365.54 L464.54,365.57 L464.66,365.61 L464.79,365.64 L464.92,365.67 L465.05,365.70 L465.18,365.73 L465.30,365.76 L465.43,365.79 L465.56,365.82 L465.69,365.85 L465.82,365.89 L465.94,365.92 L466.07,365.95 L466.20,365.98 L466.33,366.01 L466.46,366.04 L466.58,366.07 L466.71,366.11 L466.84,366.14 L466.97,366.17 L467.10,366.20 L467.22,366.24 L467.35,366.27 L467.48,366.30 L467.61,366.33 L467.73,366.37 L467.86,366.40 L467.99,366.44 L468.12,366.47 L468.25,366.51 L468.37,366.54 L468.50,366.58 L468.63,366.62 L468.76,366.65 L468.89,366.69 L469.01,366.73 L469.14,366.77 L469.27,366.80 L469.40,366.84 L469.53,366.88 L469.65,366.92 L469.78,366.96 L469.91,367.00 L470.04,367.05 L470.17,367.09 L470.29,367.13 L470.42,367.17 L470.55,367.22 L470.68,367.26 L470.81,367.31 L470.93,367.35 L471.06,367.40 L471.19,367.44 L471.32,367.49 L471.45,367.54 L471.57,367.59 L471.70,367.64 L471.83,367.69 L471.96,367.73 L472.09,367.79 L472.21,367.84 L472.34,367.89 L472.47,367.94 L472.60,367.99 L472.72,368.04 L472.85,368.10 L472.98,368.15 L473.11,368.20 L473.24,368.26 L473.36,368.31 L474.64,368.89 L475.92,369.49 L477.20,370.10 L478.48,370.70 L479.76,371.28 L481.04,371.83 L482.32,372.33 L483.60,372.79 L484.88,373.20 L486.16,373.57 L487.44,373.89 L488.72,374.18 L490.00,374.44 L491.28,374.67 L492.56,374.89 L493.84,375.08 L495.12,375.27 L496.40,375.44 L497.68,375.61 L498.95,375.76 L500.23,375.91 L501.51,376.05 L502.79,376.18 L504.07,376.31 L505.35,376.43 L506.63,376.54 L507.91,376.65 L509.19,376.75 L510.47,376.85 L511.75,376.95 L513.03,377.04 L514.31,377.12 L515.59,377.20 L516.87,377.28 L518.15,377.35 L519.43,377.42 L520.71,377.49 L521.99,377.55 L523.27,377.61 L524.54,377.67 L525.82,377.72 L527.10,377.77 L528.38,377.82 L529.66,377.87 L530.94,377.92 L532.22,377.96 L533.50,378.00 L534.78,378.04 L536.06,378.07 L537.34,378.11 L538.62,378.14 L539.90,378.17 L541.18,378.20 L542.46,378.23 L543.74,378.26 L545.02,378.29 L546.30,378.31 L547.58,378.33 L548.86,378.36 L550.13,378.38 L551.41,378.40 L552.69,378.42 L553.97,378.44 L555.25,378.45 L556.53,378.47 L557.81,378.49 L559.09,378.50 L560.37,378.52 L561.65,378.53 L562.93,378.54 L564.21,378.55 L565.49,378.57 L566.77,378.58 L568.05,378.59 L569.33,378.60 L570.61,378.61 L571.89,378.62 L573.17,378.63 L574.45,378.63 L575.72,378.64 L577.00,378.65 L578.28,378.66 L579.56,378.66 L580.84,378.67 L582.12,378.68 L583.40,378.68 L584.68,378.69 L585.96,378.69 L587.24,378.70 L588.52,378.70 L589.80,378.71 L591.08,378.71 L592.36,378.72 L593.64,378.72 L594.92,378.73 L596.20,378.73 L597.48,378.73 L598.76,378.74 L600.04,378.74 L601.31,378.74 L602.59,378.74 L603.87,378.75 L605.15,378.75 L606.43,378.75 L607.71,378.75 L608.99,378.76 L610.27,378.76 L611.55,378.76 L612.83,378.76 L614.11,378.76 L615.39,378.77 L616.67,378.77 L617.95,378.77 L619.23,378.77 L620.51,378.77 L621.79,378.77 L623.07,378.77 L624.35,378.78 L625.63,378.78 L626.90,378.78 L628.18,378.78 L629.46,378.78 L630.74,378.78 L632.02,378.78 L633.30,378.78 L634.58,378.78 L635.86,378.78 L637.14,378.79 L638.42,378.79 L639.70,378.79 L640.98,378.79 L642.26,378.79 L643.54,378.79 L644.82,378.79 L646.10,378.79 L647.38,378.79 L648.66,378.79 L649.94,378.79 L651.22,378.79 L652.49,378.79 L653.77,378.79 L655.05,378.79 L656.33,378.79 L657.61,378.79 L658.89,378.79 L660.17,378.79 L661.45,378.79 L662.73,378.79 L664.01,378.79 L665.29,378.80 L666.57,378.80 L667.85,378.80 L669.13,378.80 L670.41,378.80 L671.69,378.80 L672.97,378.80 L674.25,378.80 L675.53,378.80" fill="none" stroke="#ED7D31" stroke-width="1.25" stroke-linejoin="round"/>
<path d="M422.18,378.80 L422.31,378.80 L422.44,378.80 L422.57,378.80 L422.70,378.80 L422.82,378.80 L422.95,378.80 L423.08,378.80 L423.21,378.80 L423.34,378.79 L423.46,378.79 L423.59,378.79 L423.72,378.78 L423.85,378.77 L423.98,378.77 L424.10,378.76 L424.23,378.74 L424.36,378.73 L424.49,378.71 L424.62,378.69 L424.74,378.66 L424.87,378.63 L425.00,378.60 L425.13,378.56 L425.26,378.52 L425.38,378.47 L425.51,378.41 L425.64,378.36 L425.77,378.29 L425.90,378.22 L426.02,378.15 L426.15,378.07 L426.28,377.98 L426.41,377.89 L426.53,377.79 L426.66,377.69 L426.79,377.58 L426.92,377.47 L427.05,377.35 L427.17,377.23 L427.30,377.10 L427.43,376.97 L427.56,376.84 L427.69,376.70 L427.81,376.55 L427.94,376.40 L428.07,376.25 L428.20,376.10 L428.33,375.94 L428.45,375.78 L428.58,375.62 L428.71,375.45 L428.84,375.29 L428.97,375.12 L429.09,374.95 L429.22,374.78 L429.35,374.60 L429.48,374.43 L429.61,374.25 L429.73,374.08 L429.86,373.90 L429.99,373.72 L430.12,373.55 L430.25,373.37 L430.37,373.20 L430.50,373.02 L430.63,372.85 L430.76,372.67 L430.89,372.50 L431.01,372.33 L431.14,372.16 L431.27,371.99 L431.40,371.82 L431.52,371.65 L431.65,371.48 L431.78,371.32 L431.91,371.16 L432.04,371.00 L432.16,370.84 L432.29,370.68 L432.42,370.53 L432.55,370.38 L432.68,370.23 L432.80,370.08 L432.93,369.93 L433.06,369.79 L433.19,369.65 L433.32,369.51 L433.44,369.38 L433.57,369.24 L433.70,369.11 L433.83,368.98 L433.96,368.86 L434.08,368.73 L434.21,368.61 L434.34,368.49 L434.47,368.38 L434.60,368.26 L434.72,368.15 L434.85,368.04 L434.98,367.94 L435.11,367.83 L435.24,367.73 L435.36,367.64 L435.49,367.54 L435.62,367.45 L435.75,367.36 L435.88,367.27 L436.00,367.18 L436.13,367.10 L436.26,367.02 L436.39,366.94 L436.51,366.86 L436.64,366.79 L436.77,366.72 L436.90,366.65 L437.03,366.58 L437.15,366.52 L437.28,366.45 L437.41,366.39 L437.54,366.33 L437.67,366.28 L437.79,366.22 L437.92,366.17 L438.05,366.12 L438.18,366.08 L438.31,366.03 L438.43,365.99 L438.56,365.94 L438.69,365.90 L438.82,365.87 L438.95,365.83 L439.07,365.80 L439.20,365.76 L439.33,365.73 L439.46,365.70 L439.59,365.68 L439.71,365.65 L439.84,365.63 L439.97,365.61 L440.10,365.58 L440.23,365.57 L440.35,365.55 L440.48,365.53 L440.61,365.52 L440.74,365.50 L440.87,365.49 L440.99,365.48 L441.12,365.47 L441.25,365.47 L441.38,365.46 L441.51,365.46 L441.63,365.45 L441.76,365.45 L441.89,365.45 L442.02,365.45 L442.14,365.45 L442.27,365.45 L442.40,365.46 L442.53,365.46 L442.66,365.47 L442.78,365.47 L442.91,365.48 L443.04,365.49 L443.17,365.50 L443.30,365.51 L443.42,365.52 L443.55,365.53 L443.68,365.55 L443.81,365.56 L443.94,365.58 L444.06,365.59 L444.19,365.61 L444.32,365.63 L444.45,365.65 L444.58,365.67 L444.70,365.69 L444.83,365.71 L444.96,365.73 L445.09,365.75 L445.22,365.77 L445.34,365.79 L445.47,365.82 L445.60,365.84 L445.73,365.87 L445.86,365.89 L445.98,365.92 L446.11,365.95 L446.24,365.97 L446.37,366.00 L446.50,366.03 L446.62,366.06 L446.75,366.09 L446.88,366.11 L447.01,366.14 L447.13,366.17 L447.26,366.20 L447.39,366.24 L447.52,366.27 L447.65,366.30 L447.77,366.33 L447.90,366.36 L448.03,366.40 L448.16,366.43 L448.29,366.46 L448.41,366.49 L448.54,366.53 L448.67,366.56 L448.80,366.60 L448.93,366.63 L449.05,366.66 L449.18,366.70 L449.31,366.73 L449.44,366.77 L449.57,366.80 L449.69,366.84 L449.82,366.87 L449.95,366.91 L450.08,366.94 L450.21,366.98 L450.33,367.02 L450.46,367.05 L450.59,367.09 L450.72,367.12 L450.85,367.16 L450.97,367.19 L451.10,367.23 L451.23,367.27 L451.36,367.30 L451.49,367.34 L451.61,367.37 L451.74,367.41 L451.87,367.44 L452.00,367.48 L452.12,367.51 L452.25,367.55 L452.38,367.59 L452.51,367.62 L452.64,367.66 L452.76,367.69 L452.89,367.73 L453.02,367.76 L453.15,367.79 L453.28,367.83 L453.40,367.86 L453.53,367.90 L453.66,367.93 L453.79,367.96 L453.92,368.00 L454.04,368.03 L454.17,368.06 L454.30,368.10 L454.43,368.13 L454.56,368.16 L454.68,368.20 L454.81,368.23 L454.94,368.26 L455.07,368.29 L455.20,368.32 L455.32,368.35 L455.45,368.38 L455.58,368.41 L455.71,368.45 L455.84,368.48 L455.96,368.51 L456.09,368.53 L456.22,368.56 L456.35,368.59 L456.48,368.62 L456.60,368.65 L456.73,368.68 L456.86,368.71 L456.99,368.73 L457.11,368.76 L457.24,368.79 L457.37,368.82 L457.50,368.84 L457.63,368.87 L457.75,368.89 L457.88,368.92 L458.01,368.95 L458.14,368.97 L458.27,369.00 L458.39,369.02 L458.52,369.05 L458.65,369.07 L458.78,369.09 L458.91,369.12 L459.03,369.14 L459.16,369.16 L459.29,369.19 L459.42,369.21 L459.55,369.23 L459.67,369.26 L459.80,369.28 L459.93,369.30 L460.06,369.32 L460.19,369.34 L460.31,369.36 L460.44,369.39 L460.57,369.41 L460.70,369.43 L460.83,369.45 L460.95,369.47 L461.08,369.49 L461.21,369.51 L461.34,369.53 L461.47,369.55 L461.59,369.57 L461.72,369.59 L461.85,369.61 L461.98,369.63 L462.10,369.65 L462.23,369.67 L462.36,369.69 L462.49,369.71 L462.62,369.73 L462.74,369.75 L462.87,369.77 L463.00,369.80 L463.13,369.82 L463.26,369.84 L463.38,369.86 L463.51,369.88 L463.64,369.90 L463.77,369.92 L463.90,369.94 L464.02,369.96 L464.15,369.98 L464.28,370.00 L464.41,370.02 L464.54,370.05 L464.66,370.07 L464.79,370.09 L464.92,370.11 L465.05,370.13 L465.18,370.16 L465.30,370.18 L465.43,370.20 L465.56,370.23 L465.69,370.25 L465.82,370.28 L465.94,370.30 L466.07,370.32 L466.20,370.35 L466.33,370.37 L466.46,370.40 L466.58,370.43 L466.71,370.45 L466.84,370.48 L466.97,370.51 L467.10,370.53 L467.22,370.56 L467.35,370.59 L467.48,370.62 L467.61,370.65 L467.73,370.67 L467.86,370.70 L467.99,370.73 L468.12,370.76 L468.25,370.79 L468.37,370.82 L468.50,370.86 L468.63,370.89 L468.76,370.92 L468.89,370.95 L469.01,370.98 L469.14,371.02 L469.27,371.05 L469.40,371.08 L469.53,371.12 L469.65,371.15 L469.78,371.19 L469.91,371.22 L470.04,371.26 L470.17,371.29 L470.29,371.33 L470.42,371.37 L470.55,371.40 L470.68,371.44 L470.81,371.48 L470.93,371.51 L471.06,371.55 L471.19,371.59 L471.32,371.63 L471.45,371.67 L471.57,371.71 L471.70,371.74 L471.83,371.78 L471.96,371.82 L472.09,371.86 L472.21,371.90 L472.34,371.94 L472.47,371.98 L472.60,372.02 L472.72,372.06 L472.85,372.10 L472.98,372.14 L473.11,372.19 L473.24,372.23 L473.36,372.27 L474.64,372.68 L475.92,373.09 L477.20,373.48 L478.48,373.85 L479.76,374.19 L481.04,374.51 L482.32,374.79 L483.60,375.04 L484.88,375.27 L486.16,375.47 L487.44,375.65 L488.72,375.82 L490.00,375.97 L491.28,376.11 L492.56,376.25 L493.84,376.37 L495.12,376.49 L496.40,376.60 L497.68,376.71 L498.95,376.81 L500.23,376.90 L501.51,376.99 L502.79,377.08 L504.07,377.16 L505.35,377.24 L506.63,377.32 L507.91,377.39 L509.19,377.46 L510.47,377.52 L511.75,377.58 L513.03,377.64 L514.31,377.70 L515.59,377.75 L516.87,377.80 L518.15,377.85 L519.43,377.90 L520.71,377.94 L521.99,377.98 L523.27,378.02 L524.54,378.06 L525.82,378.09 L527.10,378.13 L528.38,378.16 L529.66,378.19 L530.94,378.22 L532.22,378.25 L533.50,378.27 L534.78,378.30 L536.06,378.32 L537.34,378.35 L538.62,378.37 L539.90,378.39 L541.18,378.41 L542.46,378.43 L543.74,378.45 L545.02,378.46 L546.30,378.48 L547.58,378.49 L548.86,378.51 L550.13,378.52 L551.41,378.54 L552.69,378.55 L553.97,378.56 L555.25,378.57 L556.53,378.58 L557.81,378.59 L559.09,378.60 L560.37,378.61 L561.65,378.62 L562.93,378.63 L564.21,378.64 L565.49,378.65 L566.77,378.65 L568.05,378.66 L569.33,378.67 L570.61,378.67 L571.89,378.68 L573.17,378.69 L574.45,378.69 L575.72,378.70 L577.00,378.70 L578.28,378.71 L579.56,378.71 L580.84,378.72 L582.12,378.72 L583.40,378.72 L584.68,378.73 L585.96,378.73 L587.24,378.73 L588.52,378.74 L589.80,378.74 L591.08,378.74 L592.36,378.75 L593.64,378.75 L594.92,378.75 L596.20,378.75 L597.48,378.76 L598.76,378.76 L600.04,378.76 L601.31,378.76 L602.59,378.76 L603.87,378.77 L605.15,378.77 L606.43,378.77 L607.71,378.77 L608.99,378.77 L610.27,378.77 L611.55,378.77 L612.83,378.78 L614.11,378.78 L615.39,378.78 L616.67,378.78 L617.95,378.78 L619.23,378.78 L620.51,378.78 L621.79,378.78 L623.07,378.78 L624.35,378.78 L625.63,378.78 L626.90,378.79 L628.18,378.79 L629.46,378.79 L630.74,378.79 L632.02,378.79 L633.30,378.79 L634.58,378.79 L635.86,378.79 L637.14,378.79 L638.42,378.79 L639.70,378.79 L640.98,378.79 L642.26,378.79 L643.54,378.79 L644.82,378.79 L646.10,378.79 L647.38,378.79 L648.66,378.79 L649.94,378.79 L651.22,378.79 L652.49,378.79 L653.77,378.79 L655.05,378.80 L656.33,378.80 L657.61,378.80 L658.89,378.80 L660.17,378.80 L661.45,378.80 L662.73,378.80 L664.01,378.80 L665.29,378.80 L666.57,378.80 L667.85,378.80 L669.13,378.80 L670.41,378.80 L671.69,378.80 L672.97,378.80 L674.25,378.80 L675.53,378.80" fill="none" stroke="#A5A5A5" stroke-width="1.25" stroke-linejoin="round"/>
<path d="M422.57,-382.46 L422.70,-376.11 L422.82,-323.54 L422.95,-259.75 L423.08,-198.49 L423.21,-143.60 L423.34,-95.55 L423.46,-51.50 L423.59,-6.07 L423.72,31.86 L423.85,63.82 L423.98,91.01 L424.10,114.37 L424.23,134.61 L424.36,152.27 L424.49,167.80 L424.62,181.55 L424.74,193.79 L424.87,204.74 L425.00,214.60 L425.13,223.50 L425.26,231.58 L425.38,238.95 L425.51,245.68 L425.64,251.86 L425.77,257.54 L425.90,262.79 L426.02,267.65 L426.15,272.16 L426.28,276.35 L426.41,280.25 L426.53,283.91 L426.66,287.32 L426.79,290.53 L426.92,293.54 L427.05,296.37 L427.17,299.04 L427.30,301.56 L427.43,303.95 L427.56,306.20 L427.69,308.34 L427.81,310.37 L427.94,312.30 L428.07,314.14 L428.20,315.89 L428.33,317.55 L428.45,319.15 L428.58,320.67 L428.71,322.12 L428.84,323.51 L428.97,324.84 L429.09,326.12 L429.22,327.34 L429.35,328.52 L429.48,329.65 L429.61,330.74 L429.73,331.78 L429.86,332.79 L429.99,333.76 L430.12,334.70 L430.25,335.60 L430.37,336.47 L430.50,337.31 L430.63,338.12 L430.76,338.91 L430.89,339.67 L431.01,340.40 L431.14,341.11 L431.27,341.80 L431.40,342.47 L431.52,343.12 L431.65,343.75 L431.78,344.35 L431.91,344.95 L432.04,345.52 L432.16,346.08 L432.29,346.62 L432.42,347.15 L432.55,347.66 L432.68,348.16 L432.80,348.64 L432.93,349.11 L433.06,349.57 L433.19,350.02 L433.32,350.46 L433.44,350.88 L433.57,351.29 L433.70,351.70 L433.83,352.09 L433.96,352.48 L434.08,352.85 L434.21,353.22 L434.34,353.57 L434.47,353.92 L434.60,354.26 L434.72,354.60 L434.85,354.92 L434.98,355.24 L435.11,355.55 L435.24,355.86 L435.36,356.15 L435.49,356.45 L435.62,356.73 L435.75,357.01 L435.88,357.28 L436.00,357.55 L436.13,357.81 L436.26,358.07 L436.39,358.32 L436.51,358.56 L436.64,358.81 L436.77,359.04 L436.90,359.27 L437.03,359.50 L437.15,359.72 L437.28,359.94 L437.41,360.16 L437.54,360.37 L437.67,360.57 L437.79,360.77 L437.92,360.97 L438.05,361.17 L438.18,361.36 L438.31,361.55 L438.43,361.73 L438.56,361.91 L438.69,362.09 L438.82,362.27 L438.95,362.44 L439.07,362.61 L439.20,362.78 L439.33,362.94 L439.46,363.10 L439.59,363.26 L439.71,363.41 L439.84,363.56 L439.97,363.71 L440.10,363.86 L440.23,364.01 L440.35,364.15 L440.48,364.29 L440.61,364.43 L440.74,364.57 L440.87,364.70 L440.99,364.83 L441.12,364.96 L441.25,365.09 L441.38,365.22 L441.51,365.34 L441.63,365.46 L441.76,365.58 L441.89,365.70 L442.02,365.82 L442.14,365.93 L442.27,366.05 L442.40,366.16 L442.53,366.27 L442.66,366.38 L442.78,366.49 L442.91,366.59 L443.04,366.70 L443.17,366.80 L443.30,366.90 L443.42,367.00 L443.55,367.10 L443.68,367.20 L443.81,367.29 L443.94,367.39 L444.06,367.48 L444.19,367.57 L444.32,367.66 L444.45,367.75 L444.58,367.84 L444.70,367.93 L444.83,368.01 L444.96,368.10 L445.09,368.18 L445.22,368.27 L445.34,368.35 L445.47,368.43 L445.60,368.51 L445.73,368.59 L445.86,368.67 L445.98,368.74 L446.11,368.82 L446.24,368.89 L446.37,368.97 L446.50,369.04 L446.62,369.11 L446.75,369.18 L446.88,369.26 L447.01,369.33 L447.13,369.39 L447.26,369.46 L447.39,369.53 L447.52,369.60 L447.65,369.66 L447.77,369.73 L447.90,369.79 L448.03,369.86 L448.16,369.92 L448.29,369.98 L448.41,370.04 L448.54,370.10 L448.67,370.17 L448.80,370.22 L448.93,370.28 L449.05,370.34 L449.18,370.40 L449.31,370.46 L449.44,370.51 L449.57,370.57 L449.69,370.63 L449.82,370.68 L449.95,370.73 L450.08,370.79 L450.21,370.84 L450.33,370.89 L450.46,370.95 L450.59,371.00 L450.72,371.05 L450.85,371.10 L450.97,371.15 L451.10,371.20 L451.23,371.25 L451.36,371.30 L451.49,371.35 L451.61,371.39 L451.74,371.44 L451.87,371.49 L452.00,371.53 L452.12,371.58 L452.25,371.63 L452.38,371.67 L452.51,371.71 L452.64,371.76 L452.76,371.80 L452.89,371.85 L453.02,371.89 L453.15,371.93 L453.28,371.97 L453.40,372.02 L453.53,372.06 L453.66,372.10 L453.79,372.14 L453.92,372.18 L454.04,372.22 L454.17,372.26 L454.30,372.30 L454.43,372.34 L454.56,372.38 L454.68,372.42 L454.81,372.45 L454.94,372.49 L455.07,372.53 L455.20,372.57 L455.32,372.60 L455.45,372.64 L455.58,372.68 L455.71,372.71 L455.84,372.75 L455.96,372.78 L456.09,372.82 L456.22,372.85 L456.35,372.89 L456.48,372.92 L456.60,372.96 L456.73,372.99 L456.86,373.02 L456.99,373.06 L457.11,373.09 L457.24,373.12 L457.37,373.15 L457.50,373.19 L457.63,373.22 L457.75,373.25 L457.88,373.28 L458.01,373.31 L458.14,373.34 L458.27,373.37 L458.39,373.41 L458.52,373.44 L458.65,373.47 L458.78,373.50 L458.91,373.53 L459.03,373.55 L459.16,373.58 L459.29,373.61 L459.42,373.64 L459.55,373.67 L459.67,373.70 L459.80,373.73 L459.93,373.75 L460.06,373.78 L460.19,373.81 L460.31,373.84 L460.44,373.86 L460.57,373.89 L460.70,373.92 L460.83,373.95 L460.95,373.97 L461.08,374.00 L461.21,374.02 L461.34,374.05 L461.47,374.08 L461.59,374.10 L461.72,374.13 L461.85,374.15 L461.98,374.18 L462.10,374.20 L462.23,374.23 L462.36,374.25 L462.49,374.28 L462.62,374.30 L462.74,374.32 L462.87,374.35 L463.00,374.37 L463.13,374.40 L463.26,374.42 L463.38,374.44 L463.51,374.47 L463.64,374.49 L463.77,374.51 L463.90,374.53 L464.02,374.56 L464.15,374.58 L464.28,374.60 L464.41,374.62 L464.54,374.65 L464.66,374.67 L464.79,374.69 L464.92,374.71 L465.05,374.73 L465.18,374.75 L465.30,374.78 L465.43,374.80 L465.56,374.82 L465.69,374.84 L465.82,374.86 L465.94,374.88 L466.07,374.90 L466.20,374.92 L466.33,374.94 L466.46,374.96 L466.58,374.98 L466.71,375.00 L466.84,375.02 L466.97,375.04 L467.10,375.06 L467.22,375.08 L467.35,375.10 L467.48,375.12 L467.61,375.14 L467.73,375.16 L467.86,375.17 L467.99,375.19 L468.12,375.21 L468.25,375.23 L468.37,375.25 L468.50,375.27 L468.63,375.28 L468.76,375.30 L468.89,375.32 L469.01,375.34 L469.14,375.36 L469.27,375.37 L469.40,375.39 L469.53,375.41 L469.65,375.43 L469.78,375.44 L469.91,375.46 L470.04,375.48 L470.17,375.50 L470.29,375.51 L470.42,375.53 L470.55,375.55 L470.68,375.56 L470.81,375.58 L470.93,375.59 L471.06,375.61 L471.19,375.63 L471.32,375.64 L471.45,375.66 L471.57,375.68 L471.70,375.69 L471.83,375.71 L471.96,375.72 L472.09,375.74 L472.21,375.75 L472.34,375.77 L472.47,375.78 L472.60,375.80 L472.72,375.82 L472.85,375.83 L472.98,375.85 L473.11,375.86 L473.24,375.88 L473.36,375.89 L474.64,376.03 L475.92,376.17 L477.20,376.30 L478.48,376.42 L479.76,376.54 L481.04,376.65 L482.32,376.75 L483.60,376.85 L484.88,376.95 L486.16,377.04 L487.44,377.12 L488.72,377.20 L490.00,377.28 L491.28,377.35 L492.56,377.42 L493.84,377.49 L495.12,377.55 L496.40,377.61 L497.68,377.67 L498.95,377.72 L500.23,377.78 L501.51,377.83 L502.79,377.87 L504.07,377.92 L505.35,377.96 L506.63,378.00 L507.91,378.04 L509.19,378.08 L510.47,378.11 L511.75,378.14 L513.03,378.18 L514.31,378.21 L515.59,378.23 L516.87,378.26 L518.15,378.29 L519.43,378.31 L520.71,378.34 L521.99,378.36 L523.27,378.38 L524.54,378.40 L525.82,378.42 L527.10,378.44 L528.38,378.45 L529.66,378.47 L530.94,378.49 L532.22,378.50 L533.50,378.52 L534.78,378.53 L536.06,378.54 L537.34,378.56 L538.62,378.57 L539.90,378.58 L541.18,378.59 L542.46,378.60 L543.74,378.61 L545.02,378.62 L546.30,378.63 L547.58,378.64 L548.86,378.64 L550.13,378.65 L551.41,378.66 L552.69,378.66 L553.97,378.67 L555.25,378.68 L556.53,378.68 L557.81,378.69 L559.09,378.69 L560.37,378.70 L561.65,378.70 L562.93,378.71 L564.21,378.71 L565.49,378.72 L566.77,378.72 L568.05,378.73 L569.33,378.73 L570.61,378.73 L571.89,378.74 L573.17,378.74 L574.45,378.74 L575.72,378.74 L577.00,378.75 L578.28,378.75 L579.56,378.75 L580.84,378.75 L582.12,378.76 L583.40,378.76 L584.68,378.76 L585.96,378.76 L587.24,378.76 L588.52,378.77 L589.80,378.77 L591.08,378.77 L592.36,378.77 L593.64,378.77 L594.92,378.77 L596.20,378.77 L597.48,378.78 L598.76,378.78 L600.04,378.78 L601.31,378.78 L602.59,378.78 L603.87,378.78 L605.15,378.78 L606.43,378.78 L607.71,378.78 L608.99,378.78 L610.27,378.79 L611.55,378.79 L612.83,378.79 L614.11,378.79 L615.39,378.79 L616.67,378.79 L617.95,378.79 L619.23,378.79 L620.51,378.79 L621.79,378.79 L623.07,378.79 L624.35,378.79 L625.63,378.79 L626.90,378.79 L628.18,378.79 L629.46,378.79 L630.74,378.79 L632.02,378.79 L633.30,378.79 L634.58,378.79 L635.86,378.79 L637.14,378.79 L638.42,378.80 L639.70,378.80 L640.98,378.80 L642.26,378.80 L643.54,378.80 L644.82,378.80 L646.10,378.80 L647.38,378.80 L648.66,378.80 L649.94,378.80 L651.22,378.80 L652.49,378.80 L653.77,378.80 L655.05,378.80 L656.33,378.80 L657.61,378.80 L658.89,378.80 L660.17,378.80 L661.45,378.80 L662.73,378.80 L664.01,378.80 L665.29,378.80 L666.57,378.80 L667.85,378.80 L669.13,378.80 L670.41,378.80 L671.69,378.80 L672.97,378.80 L674.25,378.80 L675.53,378.80" fill="none" stroke="#FFC000" stroke-width="1.45" stroke-dasharray="4.4,3.5" stroke-dashoffset="0.0" stroke-linejoin="round"/>
<path d="M422.18,363.07 L422.31,362.13 L422.44,361.19 L422.57,360.25 L422.70,359.30 L422.82,358.36 L422.95,357.42 L423.08,356.48 L423.21,355.54 L423.34,354.59 L423.46,353.65 L423.59,352.71 L423.72,351.77 L423.85,350.83 L423.98,348.34 L424.10,345.86 L424.23,343.47 L424.36,341.18 L424.49,339.00 L424.62,336.94 L424.74,335.00 L424.87,333.17 L425.00,331.47 L425.13,329.88 L425.26,328.42 L425.38,327.06 L425.51,325.82 L425.64,324.67 L425.77,323.63 L425.90,322.69 L426.02,321.83 L426.15,321.06 L426.28,320.38 L426.41,319.76 L426.53,319.22 L426.66,318.75 L426.79,318.34 L426.92,317.99 L427.05,317.70 L427.17,317.46 L427.30,317.26 L427.43,317.11 L427.56,317.00 L427.69,316.94 L427.81,316.90 L427.94,316.91 L428.07,316.94 L428.20,317.00 L428.33,317.09 L428.45,317.20 L428.58,317.34 L428.71,317.50 L428.84,317.67 L428.97,317.87 L429.09,318.08 L429.22,318.31 L429.35,318.55 L429.48,318.80 L429.61,319.07 L429.73,319.35 L429.86,319.63 L429.99,319.93 L430.12,320.23 L430.25,320.54 L430.37,320.86 L430.50,321.18 L430.63,321.51 L430.76,321.84 L430.89,322.18 L431.01,322.52 L431.14,322.86 L431.27,323.21 L431.40,323.55 L431.52,323.90 L431.65,324.25 L431.78,324.61 L431.91,324.96 L432.04,325.31 L432.16,325.67 L432.29,326.02 L432.42,326.37 L432.55,326.73 L432.68,327.08 L432.80,327.43 L432.93,327.78 L433.06,328.13 L433.19,328.48 L433.32,328.83 L433.44,329.18 L433.57,329.52 L433.70,329.86 L433.83,330.20 L433.96,330.54 L434.08,330.88 L434.21,331.22 L434.34,331.55 L434.47,331.88 L434.60,332.21 L434.72,332.54 L434.85,332.86 L434.98,333.18 L435.11,333.50 L435.24,333.82 L435.36,334.13 L435.49,334.45 L435.62,334.75 L435.75,335.06 L435.88,335.37 L436.00,335.67 L436.13,335.97 L436.26,336.27 L436.39,336.56 L436.51,336.86 L436.64,337.15 L436.77,337.43 L436.90,337.72 L437.03,338.00 L437.15,338.28 L437.28,338.56 L437.41,338.83 L437.54,339.11 L437.67,339.38 L437.79,339.64 L437.92,339.91 L438.05,340.17 L438.18,340.43 L438.31,340.69 L438.43,340.95 L438.56,341.20 L438.69,341.46 L438.82,341.70 L438.95,341.95 L439.07,342.20 L439.20,342.44 L439.33,342.68 L439.46,342.92 L439.59,343.15 L439.71,343.39 L439.84,343.62 L439.97,343.85 L440.10,344.08 L440.23,344.30 L440.35,344.53 L440.48,344.75 L440.61,344.97 L440.74,345.19 L440.87,345.40 L440.99,345.62 L441.12,345.83 L441.25,346.04 L441.38,346.25 L441.51,346.45 L441.63,346.66 L441.76,346.86 L441.89,347.06 L442.02,347.26 L442.14,347.46 L442.27,347.65 L442.40,347.85 L442.53,348.04 L442.66,348.23 L442.78,348.42 L442.91,348.61 L443.04,348.79 L443.17,348.98 L443.30,349.16 L443.42,349.34 L443.55,349.52 L443.68,349.70 L443.81,349.88 L443.94,350.05 L444.06,350.22 L444.19,350.40 L444.32,350.57 L444.45,350.74 L444.58,350.90 L444.70,351.07 L444.83,351.24 L444.96,351.40 L445.09,351.56 L445.22,351.72 L445.34,351.88 L445.47,352.04 L445.60,352.20 L445.73,352.36 L445.86,352.51 L445.98,352.67 L446.11,352.82 L446.24,352.97 L446.37,353.12 L446.50,353.27 L446.62,353.42 L446.75,353.56 L446.88,353.71 L447.01,353.85 L447.13,354.00 L447.26,354.14 L447.39,354.28 L447.52,354.42 L447.65,354.56 L447.77,354.70 L447.90,354.83 L448.03,354.97 L448.16,355.10 L448.29,355.24 L448.41,355.37 L448.54,355.50 L448.67,355.63 L448.80,355.76 L448.93,355.89 L449.05,356.02 L449.18,356.15 L449.31,356.27 L449.44,356.40 L449.57,356.52 L449.69,356.65 L449.82,356.77 L449.95,356.89 L450.08,357.01 L450.21,357.13 L450.33,357.25 L450.46,357.37 L450.59,357.49 L450.72,357.61 L450.85,357.72 L450.97,357.84 L451.10,357.95 L451.23,358.06 L451.36,358.18 L451.49,358.29 L451.61,358.40 L451.74,358.51 L451.87,358.62 L452.00,358.73 L452.12,358.84 L452.25,358.95 L452.38,359.05 L452.51,359.16 L452.64,359.27 L452.76,359.37 L452.89,359.47 L453.02,359.58 L453.15,359.68 L453.28,359.78 L453.40,359.89 L453.53,359.99 L453.66,360.09 L453.79,360.19 L453.92,360.28 L454.04,360.38 L454.17,360.48 L454.30,360.58 L454.43,360.67 L454.56,360.77 L454.68,360.87 L454.81,360.96 L454.94,361.05 L455.07,361.15 L455.20,361.24 L455.32,361.33 L455.45,361.42 L455.58,361.52 L455.71,361.61 L455.84,361.70 L455.96,361.79 L456.09,361.88 L456.22,361.96 L456.35,362.05 L456.48,362.14 L456.60,362.23 L456.73,362.31 L456.86,362.40 L456.99,362.48 L457.11,362.57 L457.24,362.65 L457.37,362.74 L457.50,362.82 L457.63,362.90 L457.75,362.98 L457.88,363.07 L458.01,363.15 L458.14,363.23 L458.27,363.31 L458.39,363.39 L458.52,363.47 L458.65,363.55 L458.78,363.63 L458.91,363.70 L459.03,363.78 L459.16,363.86 L459.29,363.94 L459.42,364.01 L459.55,364.09 L459.67,364.16 L459.80,364.24 L459.93,364.31 L460.06,364.39 L460.19,364.46 L460.31,364.53 L460.44,364.61 L460.57,364.68 L460.70,364.75 L460.83,364.82 L460.95,364.90 L461.08,364.97 L461.21,365.04 L461.34,365.11 L461.47,365.18 L461.59,365.25 L461.72,365.31 L461.85,365.38 L461.98,365.45 L462.10,365.52 L462.23,365.59 L462.36,365.65 L462.49,365.72 L462.62,365.79 L462.74,365.85 L462.87,365.92 L463.00,365.98 L463.13,366.05 L463.26,366.11 L463.38,366.18 L463.51,366.24 L463.64,366.30 L463.77,366.37 L463.90,366.43 L464.02,366.49 L464.15,366.55 L464.28,366.62 L464.41,366.68 L464.54,366.74 L464.66,366.80 L464.79,366.86 L464.92,366.92 L465.05,366.98 L465.18,367.04 L465.30,367.10 L465.43,367.16 L465.56,367.22 L465.69,367.27 L465.82,367.33 L465.94,367.39 L466.07,367.45 L466.20,367.50 L466.33,367.56 L466.46,367.62 L466.58,367.67 L466.71,367.73 L466.84,367.78 L466.97,367.84 L467.10,367.89 L467.22,367.95 L467.35,368.00 L467.48,368.06 L467.61,368.11 L467.73,368.17 L467.86,368.22 L467.99,368.27 L468.12,368.32 L468.25,368.38 L468.37,368.43 L468.50,368.48 L468.63,368.53 L468.76,368.58 L468.89,368.63 L469.01,368.68 L469.14,368.74 L469.27,368.79 L469.40,368.84 L469.53,368.89 L469.65,368.93 L469.78,368.98 L469.91,369.03 L470.04,369.08 L470.17,369.13 L470.29,369.18 L470.42,369.23 L470.55,369.27 L470.68,369.32 L470.81,369.37 L470.93,369.42 L471.06,369.46 L471.19,369.51 L471.32,369.55 L471.45,369.60 L471.57,369.65 L471.70,369.69 L471.83,369.74 L471.96,369.78 L472.09,369.83 L472.21,369.87 L472.34,369.92 L472.47,369.96 L472.60,370.00 L472.72,370.05 L472.85,370.09 L472.98,370.13 L473.11,370.18 L473.24,370.22 L473.36,370.26 L474.64,370.68 L475.92,371.07 L477.20,371.45 L478.48,371.80 L479.76,372.14 L481.04,372.46 L482.32,372.77 L483.60,373.06 L484.88,373.34 L486.16,373.60 L487.44,373.85 L488.72,374.09 L490.00,374.32 L491.28,374.53 L492.56,374.74 L493.84,374.93 L495.12,375.12 L496.40,375.30 L497.68,375.47 L498.95,375.63 L500.23,375.78 L501.51,375.93 L502.79,376.06 L504.07,376.20 L505.35,376.32 L506.63,376.44 L507.91,376.55 L509.19,376.66 L510.47,376.77 L511.75,376.86 L513.03,376.96 L514.31,377.05 L515.59,377.13 L516.87,377.21 L518.15,377.29 L519.43,377.36 L520.71,377.43 L521.99,377.49 L523.27,377.56 L524.54,377.62 L525.82,377.67 L527.10,377.73 L528.38,377.78 L529.66,377.83 L530.94,377.88 L532.22,377.92 L533.50,377.96 L534.78,378.00 L536.06,378.04 L537.34,378.08 L538.62,378.11 L539.90,378.15 L541.18,378.18 L542.46,378.21 L543.74,378.24 L545.02,378.26 L546.30,378.29 L547.58,378.31 L548.86,378.34 L550.13,378.36 L551.41,378.38 L552.69,378.40 L553.97,378.42 L555.25,378.44 L556.53,378.46 L557.81,378.47 L559.09,378.49 L560.37,378.50 L561.65,378.52 L562.93,378.53 L564.21,378.54 L565.49,378.56 L566.77,378.57 L568.05,378.58 L569.33,378.59 L570.61,378.60 L571.89,378.61 L573.17,378.62 L574.45,378.63 L575.72,378.64 L577.00,378.64 L578.28,378.65 L579.56,378.66 L580.84,378.67 L582.12,378.67 L583.40,378.68 L584.68,378.68 L585.96,378.69 L587.24,378.69 L588.52,378.70 L589.80,378.70 L591.08,378.71 L592.36,378.71 L593.64,378.72 L594.92,378.72 L596.20,378.73 L597.48,378.73 L598.76,378.73 L600.04,378.74 L601.31,378.74 L602.59,378.74 L603.87,378.74 L605.15,378.75 L606.43,378.75 L607.71,378.75 L608.99,378.75 L610.27,378.76 L611.55,378.76 L612.83,378.76 L614.11,378.76 L615.39,378.76 L616.67,378.77 L617.95,378.77 L619.23,378.77 L620.51,378.77 L621.79,378.77 L623.07,378.77 L624.35,378.77 L625.63,378.78 L626.90,378.78 L628.18,378.78 L629.46,378.78 L630.74,378.78 L632.02,378.78 L633.30,378.78 L634.58,378.78 L635.86,378.78 L637.14,378.78 L638.42,378.79 L639.70,378.79 L640.98,378.79 L642.26,378.79 L643.54,378.79 L644.82,378.79 L646.10,378.79 L647.38,378.79 L648.66,378.79 L649.94,378.79 L651.22,378.79 L652.49,378.79 L653.77,378.79 L655.05,378.79 L656.33,378.79 L657.61,378.79 L658.89,378.79 L660.17,378.79 L661.45,378.79 L662.73,378.79 L664.01,378.79 L665.29,378.79 L666.57,378.80 L667.85,378.80 L669.13,378.80 L670.41,378.80 L671.69,378.80 L672.97,378.80 L674.25,378.80 L675.53,378.80" fill="none" stroke="#4472C4" stroke-width="1.45" stroke-dasharray="4.4,3.5" stroke-dashoffset="2.6" stroke-linejoin="round"/>
<path d="M422.18,378.80 L422.31,378.80 L422.44,378.80 L422.57,378.80 L422.70,378.80 L422.82,378.80 L422.95,378.80 L423.08,378.80 L423.21,378.80 L423.34,378.80 L423.46,378.80 L423.59,378.80 L423.72,378.80 L423.85,378.80 L423.98,378.80 L424.10,378.79 L424.23,378.79 L424.36,378.79 L424.49,378.78 L424.62,378.77 L424.74,378.77 L424.87,378.76 L425.00,378.74 L425.13,378.73 L425.26,378.71 L425.38,378.69 L425.51,378.66 L425.64,378.63 L425.77,378.60 L425.90,378.56 L426.02,378.52 L426.15,378.47 L426.28,378.41 L426.41,378.36 L426.53,378.29 L426.66,378.22 L426.79,378.15 L426.92,378.07 L427.05,377.98 L427.17,377.89 L427.30,377.79 L427.43,377.69 L427.56,377.58 L427.69,377.47 L427.81,377.35 L427.94,377.23 L428.07,377.10 L428.20,376.97 L428.33,376.84 L428.45,376.70 L428.58,376.55 L428.71,376.40 L428.84,376.25 L428.97,376.10 L429.09,375.94 L429.22,375.78 L429.35,375.62 L429.48,375.45 L429.61,375.29 L429.73,375.12 L429.86,374.95 L429.99,374.78 L430.12,374.60 L430.25,374.43 L430.37,374.25 L430.50,374.08 L430.63,373.90 L430.76,373.72 L430.89,373.55 L431.01,373.37 L431.14,373.20 L431.27,373.02 L431.40,372.85 L431.52,372.67 L431.65,372.50 L431.78,372.33 L431.91,372.16 L432.04,371.99 L432.16,371.82 L432.29,371.65 L432.42,371.48 L432.55,371.32 L432.68,371.16 L432.80,371.00 L432.93,370.84 L433.06,370.68 L433.19,370.53 L433.32,370.38 L433.44,370.23 L433.57,370.08 L433.70,369.93 L433.83,369.79 L433.96,369.65 L434.08,369.51 L434.21,369.38 L434.34,369.24 L434.47,369.11 L434.60,368.98 L434.72,368.86 L434.85,368.73 L434.98,368.61 L435.11,368.49 L435.24,368.38 L435.36,368.26 L435.49,368.15 L435.62,368.04 L435.75,367.94 L435.88,367.83 L436.00,367.73 L436.13,367.64 L436.26,367.54 L436.39,367.45 L436.51,367.36 L436.64,367.27 L436.77,367.18 L436.90,367.10 L437.03,367.02 L437.15,366.94 L437.28,366.86 L437.41,366.79 L437.54,366.72 L437.67,366.65 L437.79,366.58 L437.92,366.52 L438.05,366.45 L438.18,366.39 L438.31,366.33 L438.43,366.28 L438.56,366.22 L438.69,366.17 L438.82,366.12 L438.95,366.08 L439.07,366.03 L439.20,365.99 L439.33,365.94 L439.46,365.90 L439.59,365.87 L439.71,365.83 L439.84,365.80 L439.97,365.76 L440.10,365.73 L440.23,365.70 L440.35,365.68 L440.48,365.65 L440.61,365.63 L440.74,365.61 L440.87,365.59 L440.99,365.57 L441.12,365.55 L441.25,365.53 L441.38,365.52 L441.51,365.51 L441.63,365.49 L441.76,365.48 L441.89,365.48 L442.02,365.47 L442.14,365.46 L442.27,365.46 L442.40,365.45 L442.53,365.45 L442.66,365.45 L442.78,365.45 L442.91,365.45 L443.04,365.46 L443.17,365.46 L443.30,365.46 L443.42,365.47 L443.55,365.48 L443.68,365.48 L443.81,365.49 L443.94,365.50 L444.06,365.51 L444.19,365.53 L444.32,365.54 L444.45,365.55 L444.58,365.57 L444.70,365.58 L444.83,365.60 L444.96,365.62 L445.09,365.63 L445.22,365.65 L445.34,365.67 L445.47,365.69 L445.60,365.71 L445.73,365.74 L445.86,365.76 L445.98,365.78 L446.11,365.81 L446.24,365.83 L446.37,365.85 L446.50,365.88 L446.62,365.91 L446.75,365.93 L446.88,365.96 L447.01,365.99 L447.13,366.02 L447.26,366.05 L447.39,366.07 L447.52,366.10 L447.65,366.13 L447.77,366.17 L447.90,366.20 L448.03,366.23 L448.16,366.26 L448.29,366.29 L448.41,366.33 L448.54,366.36 L448.67,366.39 L448.80,366.43 L448.93,366.46 L449.05,366.50 L449.18,366.53 L449.31,366.57 L449.44,366.60 L449.57,366.64 L449.69,366.67 L449.82,366.71 L449.95,366.75 L450.08,366.79 L450.21,366.82 L450.33,366.86 L450.46,366.90 L450.59,366.94 L450.72,366.97 L450.85,367.01 L450.97,367.05 L451.10,367.09 L451.23,367.13 L451.36,367.17 L451.49,367.21 L451.61,367.25 L451.74,367.29 L451.87,367.33 L452.00,367.37 L452.12,367.41 L452.25,367.45 L452.38,367.49 L452.51,367.53 L452.64,367.57 L452.76,367.61 L452.89,367.65 L453.02,367.69 L453.15,367.73 L453.28,367.77 L453.40,367.81 L453.53,367.85 L453.66,367.89 L453.79,367.93 L453.92,367.97 L454.04,368.02 L454.17,368.06 L454.30,368.10 L454.43,368.14 L454.56,368.18 L454.68,368.22 L454.81,368.26 L454.94,368.30 L455.07,368.35 L455.20,368.39 L455.32,368.43 L455.45,368.47 L455.58,368.51 L455.71,368.55 L455.84,368.59 L455.96,368.63 L456.09,368.67 L456.22,368.72 L456.35,368.76 L456.48,368.80 L456.60,368.84 L456.73,368.88 L456.86,368.92 L456.99,368.96 L457.11,369.00 L457.24,369.04 L457.37,369.08 L457.50,369.12 L457.63,369.17 L457.75,369.21 L457.88,369.25 L458.01,369.29 L458.14,369.33 L458.27,369.37 L458.39,369.41 L458.52,369.45 L458.65,369.49 L458.78,369.53 L458.91,369.57 L459.03,369.61 L459.16,369.65 L459.29,369.69 L459.42,369.73 L459.55,369.77 L459.67,369.80 L459.80,369.84 L459.93,369.88 L460.06,369.92 L460.19,369.96 L460.31,370.00 L460.44,370.04 L460.57,370.08 L460.70,370.12 L460.83,370.15 L460.95,370.19 L461.08,370.23 L461.21,370.27 L461.34,370.31 L461.47,370.35 L461.59,370.38 L461.72,370.42 L461.85,370.46 L461.98,370.50 L462.10,370.53 L462.23,370.57 L462.36,370.61 L462.49,370.64 L462.62,370.68 L462.74,370.72 L462.87,370.75 L463.00,370.79 L463.13,370.83 L463.26,370.86 L463.38,370.90 L463.51,370.94 L463.64,370.97 L463.77,371.01 L463.90,371.04 L464.02,371.08 L464.15,371.11 L464.28,371.15 L464.41,371.18 L464.54,371.22 L464.66,371.25 L464.79,371.29 L464.92,371.32 L465.05,371.36 L465.18,371.39 L465.30,371.43 L465.43,371.46 L465.56,371.50 L465.69,371.53 L465.82,371.56 L465.94,371.60 L466.07,371.63 L466.20,371.66 L466.33,371.70 L466.46,371.73 L466.58,371.76 L466.71,371.80 L466.84,371.83 L466.97,371.86 L467.10,371.89 L467.22,371.93 L467.35,371.96 L467.48,371.99 L467.61,372.02 L467.73,372.06 L467.86,372.09 L467.99,372.12 L468.12,372.15 L468.25,372.18 L468.37,372.21 L468.50,372.24 L468.63,372.27 L468.76,372.31 L468.89,372.34 L469.01,372.37 L469.14,372.40 L469.27,372.43 L469.40,372.46 L469.53,372.49 L469.65,372.52 L469.78,372.55 L469.91,372.58 L470.04,372.61 L470.17,372.64 L470.29,372.67 L470.42,372.70 L470.55,372.72 L470.68,372.75 L470.81,372.78 L470.93,372.81 L471.06,372.84 L471.19,372.87 L471.32,372.90 L471.45,372.92 L471.57,372.95 L471.70,372.98 L471.83,373.01 L471.96,373.04 L472.09,373.06 L472.21,373.09 L472.34,373.12 L472.47,373.15 L472.60,373.17 L472.72,373.20 L472.85,373.23 L472.98,373.25 L473.11,373.28 L473.24,373.31 L473.36,373.33 L474.64,373.59 L475.92,373.84 L477.20,374.07 L478.48,374.30 L479.76,374.51 L481.04,374.72 L482.32,374.91 L483.60,375.10 L484.88,375.27 L486.16,375.44 L487.44,375.60 L488.72,375.76 L490.00,375.90 L491.28,376.04 L492.56,376.17 L493.84,376.30 L495.12,376.42 L496.40,376.54 L497.68,376.64 L498.95,376.75 L500.23,376.85 L501.51,376.94 L502.79,377.03 L504.07,377.12 L505.35,377.20 L506.63,377.27 L507.91,377.35 L509.19,377.42 L510.47,377.48 L511.75,377.55 L513.03,377.61 L514.31,377.66 L515.59,377.72 L516.87,377.77 L518.15,377.82 L519.43,377.87 L520.71,377.91 L521.99,377.96 L523.27,378.00 L524.54,378.03 L525.82,378.07 L527.10,378.11 L528.38,378.14 L529.66,378.17 L530.94,378.20 L532.22,378.23 L533.50,378.26 L534.78,378.28 L536.06,378.31 L537.34,378.33 L538.62,378.36 L539.90,378.38 L541.18,378.40 L542.46,378.42 L543.74,378.43 L545.02,378.45 L546.30,378.47 L547.58,378.49 L548.86,378.50 L550.13,378.51 L551.41,378.53 L552.69,378.54 L553.97,378.55 L555.25,378.57 L556.53,378.58 L557.81,378.59 L559.09,378.60 L560.37,378.61 L561.65,378.62 L562.93,378.63 L564.21,378.63 L565.49,378.64 L566.77,378.65 L568.05,378.66 L569.33,378.66 L570.61,378.67 L571.89,378.68 L573.17,378.68 L574.45,378.69 L575.72,378.69 L577.00,378.70 L578.28,378.70 L579.56,378.71 L580.84,378.71 L582.12,378.72 L583.40,378.72 L584.68,378.72 L585.96,378.73 L587.24,378.73 L588.52,378.74 L589.80,378.74 L591.08,378.74 L592.36,378.74 L593.64,378.75 L594.92,378.75 L596.20,378.75 L597.48,378.75 L598.76,378.76 L600.04,378.76 L601.31,378.76 L602.59,378.76 L603.87,378.76 L605.15,378.77 L606.43,378.77 L607.71,378.77 L608.99,378.77 L610.27,378.77 L611.55,378.77 L612.83,378.77 L614.11,378.78 L615.39,378.78 L616.67,378.78 L617.95,378.78 L619.23,378.78 L620.51,378.78 L621.79,378.78 L623.07,378.78 L624.35,378.78 L625.63,378.78 L626.90,378.79 L628.18,378.79 L629.46,378.79 L630.74,378.79 L632.02,378.79 L633.30,378.79 L634.58,378.79 L635.86,378.79 L637.14,378.79 L638.42,378.79 L639.70,378.79 L640.98,378.79 L642.26,378.79 L643.54,378.79 L644.82,378.79 L646.10,378.79 L647.38,378.79 L648.66,378.79 L649.94,378.79 L651.22,378.79 L652.49,378.79 L653.77,378.79 L655.05,378.80 L656.33,378.80 L657.61,378.80 L658.89,378.80 L660.17,378.80 L661.45,378.80 L662.73,378.80 L664.01,378.80 L665.29,378.80 L666.57,378.80 L667.85,378.80 L669.13,378.80 L670.41,378.80 L671.69,378.80 L672.97,378.80 L674.25,378.80 L675.53,378.80" fill="none" stroke="#E02020" stroke-width="1.45" stroke-dasharray="4.4,3.5" stroke-dashoffset="5.2" stroke-linejoin="round"/>
</g>
<text x="526.00" y="178.30" font-size="11.6" font-family='"Liberation Sans", sans-serif' fill="#000" textLength="32.00" lengthAdjust="spacingAndGlyphs">EFT12</text>
<text x="586.70" y="177.80" font-size="11.6" font-family='"Liberation Sans", sans-serif' fill="#000" textLength="19.20" lengthAdjust="spacingAndGlyphs">REF</text>
<rect x="529.2" y="184.0" width="29.4" height="6.9" fill="#5B9BD5"/>
<rect x="577.8" y="184.0" width="10.5" height="6.9" fill="#FFC000"/>
<rect x="591.0" y="184.0" width="10.5" height="6.9" fill="#FFC000"/>
<rect x="604.6" y="184.0" width="10.5" height="6.9" fill="#FFC000"/>
<text x="625.40" y="192.00" font-size="12" font-family='"Liberation Sans", sans-serif' fill="#000" textLength="46.00" lengthAdjust="spacingAndGlyphs">Node 11</text>
<rect x="529.2" y="201.6" width="29.4" height="6.9" fill="#ED7D31"/>
<rect x="577.8" y="201.6" width="10.5" height="6.9" fill="#4472C4"/>
<rect x="591.0" y="201.6" width="10.5" height="6.9" fill="#4472C4"/>
<rect x="604.6" y="201.6" width="10.5" height="6.9" fill="#4472C4"/>
<text x="625.40" y="210.50" font-size="12" font-family='"Liberation Sans", sans-serif' fill="#000" textLength="46.00" lengthAdjust="spacingAndGlyphs">Node 14</text>
<rect x="529.2" y="217.9" width="29.4" height="6.9" fill="#A5A5A5"/>
<rect x="577.8" y="217.9" width="10.5" height="6.9" fill="#EE1C1C"/>
<rect x="591.0" y="217.9" width="10.5" height="6.9" fill="#EE1C1C"/>
<rect x="604.6" y="217.9" width="10.5" height="6.9" fill="#EE1C1C"/>
<text x="625.40" y="225.90" font-size="12" font-family='"Liberation Sans", sans-serif' fill="#000" textLength="46.00" lengthAdjust="spacingAndGlyphs">Node 18</text>
<text x="502.60" y="407.20" font-size="11.5" font-family='"Liberation Sans", sans-serif' fill="#000" textLength="42.10" lengthAdjust="spacingAndGlyphs">Time (s)</text>
<g transform="translate(384.5,342.9) rotate(-90)">
<text x="0.00" y="0.00" font-size="14.5" font-family='"Liberation Sans", sans-serif' fill="#000" textLength="9.30" lengthAdjust="spacingAndGlyphs">Δ</text>
<text x="9.30" y="0.00" font-size="14.5" font-family='"Liberation Sans", sans-serif' fill="#000" font-style="italic" textLength="8.60" lengthAdjust="spacingAndGlyphs">Ø</text>
<text x="23.60" y="0.60" font-size="18" font-family='"Liberation Sans", sans-serif' fill="#000">=</text>
<text x="42.50" y="0.00" font-size="14.5" font-family='"Liberation Sans", sans-serif' fill="#000" font-style="italic" textLength="8.80" lengthAdjust="spacingAndGlyphs">Ø</text>
<text x="52.20" y="4.00" font-size="11.5" font-family='"Liberation Serif", serif' fill="#000" font-style="italic" textLength="7.00" lengthAdjust="spacingAndGlyphs">n</text>
<text x="64.90" y="0.90" font-size="18" font-family='"Liberation Sans", sans-serif' fill="#000">−</text>
<text x="79.70" y="0.00" font-size="14.5" font-family='"Liberation Sans", sans-serif' fill="#000" font-style="italic" textLength="8.80" lengthAdjust="spacingAndGlyphs">Ø</text>
<text x="89.00" y="4.00" font-size="11.5" font-family='"Liberation Serif", serif' fill="#000" font-style="italic" textLength="20.40" lengthAdjust="spacingAndGlyphs">n−1</text>
<text x="122.20" y="3.60" font-size="12.3" font-family='"Liberation Serif", serif' fill="#000" textLength="47.60" lengthAdjust="spacingAndGlyphs">@ 0.005 s</text>
</g>
<line x1="399.6" y1="558.10" x2="640.2" y2="558.10" stroke="#DCDCDC" stroke-width="0.75"/>
<text x="391.00" y="561.00" font-size="9.0" font-family='"Liberation Sans", sans-serif' fill="#5f5f5f" font-weight="bold" text-anchor="end">0,0000</text>
<line x1="399.6" y1="542.59" x2="640.2" y2="542.59" stroke="#DCDCDC" stroke-width="0.75"/>
<text x="391.00" y="545.49" font-size="9.0" font-family='"Liberation Sans", sans-serif' fill="#5f5f5f" font-weight="bold" text-anchor="end">0,0002</text>
<line x1="399.6" y1="527.08" x2="640.2" y2="527.08" stroke="#DCDCDC" stroke-width="0.75"/>
<text x="391.00" y="529.98" font-size="9.0" font-family='"Liberation Sans", sans-serif' fill="#5f5f5f" font-weight="bold" text-anchor="end">0,0004</text>
<line x1="399.6" y1="511.57" x2="640.2" y2="511.57" stroke="#DCDCDC" stroke-width="0.75"/>
<text x="391.00" y="514.47" font-size="9.0" font-family='"Liberation Sans", sans-serif' fill="#5f5f5f" font-weight="bold" text-anchor="end">0,0006</text>
<line x1="399.6" y1="496.06" x2="640.2" y2="496.06" stroke="#DCDCDC" stroke-width="0.75"/>
<text x="391.00" y="498.96" font-size="9.0" font-family='"Liberation Sans", sans-serif' fill="#5f5f5f" font-weight="bold" text-anchor="end">0,0008</text>
<line x1="399.6" y1="480.54" x2="640.2" y2="480.54" stroke="#DCDCDC" stroke-width="0.75"/>
<text x="391.00" y="483.44" font-size="9.0" font-family='"Liberation Sans", sans-serif' fill="#5f5f5f" font-weight="bold" text-anchor="end">0,0010</text>
<line x1="399.6" y1="465.03" x2="640.2" y2="465.03" stroke="#DCDCDC" stroke-width="0.75"/>
<text x="391.00" y="467.93" font-size="9.0" font-family='"Liberation Sans", sans-serif' fill="#5f5f5f" font-weight="bold" text-anchor="end">0,0012</text>
<line x1="399.6" y1="449.52" x2="640.2" y2="449.52" stroke="#DCDCDC" stroke-width="0.75"/>
<text x="391.00" y="452.42" font-size="9.0" font-family='"Liberation Sans", sans-serif' fill="#5f5f5f" font-weight="bold" text-anchor="end">0,0014</text>
<line x1="399.6" y1="434.01" x2="640.2" y2="434.01" stroke="#DCDCDC" stroke-width="0.75"/>
<text x="391.00" y="436.91" font-size="9.0" font-family='"Liberation Sans", sans-serif' fill="#5f5f5f" font-weight="bold" text-anchor="end">0,0016</text>
<line x1="399.6" y1="418.50" x2="640.2" y2="418.50" stroke="#DCDCDC" stroke-width="0.75"/>
<text x="391.00" y="421.40" font-size="9.0" font-family='"Liberation Sans", sans-serif' fill="#5f5f5f" font-weight="bold" text-anchor="end">0,0018</text>
<line x1="399.60" y1="418.5" x2="399.60" y2="558.1" stroke="#DCDCDC" stroke-width="0.75"/>
<text x="400.10" y="573.20" font-size="8.8" font-family='"Liberation Sans", sans-serif' fill="#5f5f5f" font-weight="bold" text-anchor="middle">0</text>
<line x1="447.72" y1="418.5" x2="447.72" y2="558.1" stroke="#DCDCDC" stroke-width="0.75"/>
<text x="448.22" y="573.20" font-size="8.8" font-family='"Liberation Sans", sans-serif' fill="#5f5f5f" font-weight="bold" text-anchor="middle">0,2</text>
<line x1="495.84" y1="418.5" x2="495.84" y2="558.1" stroke="#DCDCDC" stroke-width="0.75"/>
<text x="496.34" y="573.20" font-size="8.8" font-family='"Liberation Sans", sans-serif' fill="#5f5f5f" font-weight="bold" text-anchor="middle">0,4</text>
<line x1="543.96" y1="418.5" x2="543.96" y2="558.1" stroke="#DCDCDC" stroke-width="0.75"/>
<text x="544.46" y="573.20" font-size="8.8" font-family='"Liberation Sans", sans-serif' fill="#5f5f5f" font-weight="bold" text-anchor="middle">0,6</text>
<line x1="592.08" y1="418.5" x2="592.08" y2="558.1" stroke="#DCDCDC" stroke-width="0.75"/>
<text x="592.58" y="573.20" font-size="8.8" font-family='"Liberation Sans", sans-serif' fill="#5f5f5f" font-weight="bold" text-anchor="middle">0,8</text>
<line x1="640.20" y1="418.5" x2="640.20" y2="558.1" stroke="#DCDCDC" stroke-width="0.75"/>
<text x="640.70" y="573.20" font-size="8.8" font-family='"Liberation Sans", sans-serif' fill="#5f5f5f" font-weight="bold" text-anchor="middle">1</text>
<path d="M399.60,554.13 L418.85,554.13 L435.93,434.01 L640.20,434.01" fill="none" stroke="#5B9BD5" stroke-width="1.5" stroke-linejoin="round"/>
<text x="341.80" y="495.60" font-size="17" font-family='"Liberation Serif", serif' fill="#000">Δ</text>
<text x="351.90" y="495.60" font-size="16" font-family='"Liberation Sans", sans-serif' fill="#000">t</text>
<text x="502.60" y="582.20" font-size="10.4" font-family='"Liberation Sans", sans-serif' fill="#000" textLength="37.30" lengthAdjust="spacingAndGlyphs">Time (s)</text>
<text x="75.80" y="466.80" font-size="13.6" font-family='"Liberation Sans", sans-serif' fill="#000" font-weight="bold" textLength="164.50" lengthAdjust="spacingAndGlyphs">EFT12. Variable time step</text>
<text x="240.30" y="466.80" font-size="13.6" font-family='"Liberation Sans", sans-serif' fill="#000">.</text>
<text x="75.80" y="486.10" font-size="13.6" font-family='"Liberation Sans", sans-serif' fill="#000" textLength="178.20" lengthAdjust="spacingAndGlyphs">Time step variation to reach</text>
<text x="75.60" y="505.00" font-size="15" font-family='"Liberation Serif", serif' fill="#000">Δ</text>
<text x="84.80" y="505.00" font-size="14" font-family='"Liberation Sans", sans-serif' fill="#000">t</text>
<text x="91.50" y="498.90" font-size="10" font-family='"Liberation Serif", serif' fill="#000" textLength="20.90" lengthAdjust="spacingAndGlyphs">EFT</text>
<text x="114.00" y="505.00" font-size="13.6" font-family='"Liberation Sans", sans-serif' fill="#000" textLength="7.00" lengthAdjust="spacingAndGlyphs">=</text>
<text x="128.20" y="505.00" font-size="13.6" font-family='"Liberation Sans", sans-serif' fill="#000" textLength="72.80" lengthAdjust="spacingAndGlyphs">0.001616 s,</text>
<text x="209.00" y="505.00" font-size="13.6" font-family='"Liberation Sans", sans-serif' fill="#000" textLength="108.00" lengthAdjust="spacingAndGlyphs">corresponding to</text>
<text x="75.80" y="524.00" font-size="13.6" font-family='"Liberation Sans", sans-serif' fill="#000" textLength="113.50" lengthAdjust="spacingAndGlyphs">δ = 0.936565  and</text>
<text x="200.70" y="524.00" font-size="15.6" font-family='"Liberation Serif", serif' fill="#FF0000" font-weight="bold" textLength="28.80" lengthAdjust="spacingAndGlyphs">SUP</text>
<text x="230.40" y="518.10" font-size="10" font-family='"Liberation Serif", serif' fill="#FF0000" font-weight="bold" textLength="12.40" lengthAdjust="spacingAndGlyphs">FE</text>
<text x="248.00" y="524.00" font-size="13.4" font-family='"Liberation Sans", sans-serif' fill="#FF0000" font-weight="bold" textLength="47.00" lengthAdjust="spacingAndGlyphs">= 31.53</text>
</g>
</svg>
</body></html>
